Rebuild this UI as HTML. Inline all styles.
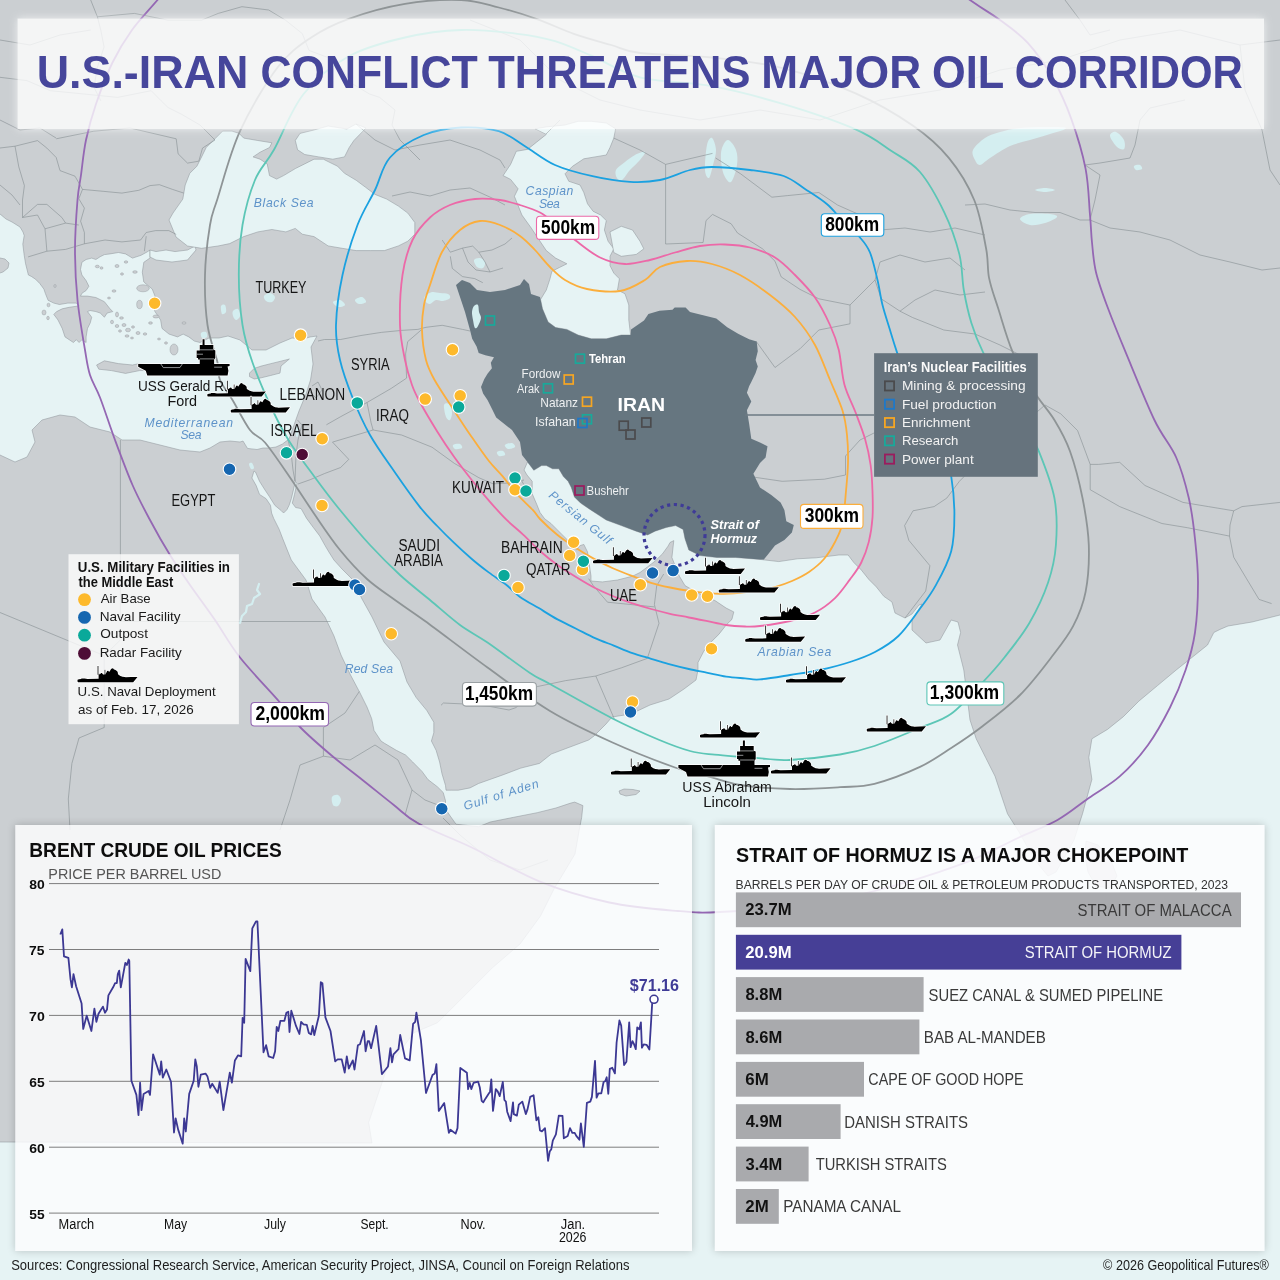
<!DOCTYPE html><html><head><meta charset="utf-8"><title>U.S.-Iran Conflict Threatens Major Oil Corridor</title>
<style>html,body{margin:0;padding:0;background:#cbcfd2;}svg{display:block;}text{font-family:'Liberation Sans', Arial, sans-serif;}</style></head><body>
<svg width="1280" height="1280" viewBox="0 0 1280 1280">
<defs><filter id="glow" x="-5%" y="-20%" width="110%" height="140%"><feGaussianBlur stdDeviation="3"/></filter><filter id="shadow" x="-5%" y="-5%" width="110%" height="110%"><feGaussianBlur stdDeviation="4"/></filter><filter id="glow2" x="-5%" y="-30%" width="110%" height="160%"><feGaussianBlur stdDeviation="4.5"/></filter><symbol id="ship" viewBox="0 0 60 16.2" overflow="visible"><path d="M0,13.8 L1.5,13.2 L3.5,13 L4,12.5 L6.5,12.5 L7.2,12.6 L9.9,13 L21.1,12.75 L21.1,8.5 L22,8.5 L22,7.7 L23.2,7.7 L23.6,6.9 L24.4,6.9 L24.8,7.6 L25.6,8.4 L28,8.4 L28.6,7 L29.1,6.2 L29.6,5.1 L30.7,4.8 L31.2,5.6 L31.9,5.8 L32.3,5.2 L33.1,3.7 L33.9,2.7 L35,2.3 L36,2.8 L36.5,3.6 L37.6,3.7 L38.7,4.5 L39.7,5.3 L40.3,6.4 L40.5,8.3 L41.8,9.2 L42.9,9.9 L45,10.8 L47.2,11.1 L48.3,11.3 L53.6,11.1 L60,10.9 L55.7,16.2 L0.5,16.2 L0,15.5 Z M20.1,0 L20.9,0 L20.9,8.8 L20.1,8.8 Z M27.1,3.7 L27.8,3.7 L27.8,8.5 L27.1,8.5 Z" fill="#000" stroke="#fff" stroke-width="1.5" stroke-linejoin="round" paint-order="stroke"/></symbol><symbol id="carrier" viewBox="0 0 91.6 36.2" overflow="visible"><path d="M0,24.7 L61.7,24.7 L61.7,20.3 L60,20.3 L60,18.7 L58.6,18.7 L58.6,11.1 L61.7,11.1 L61.7,5.6 L64.5,5.6 L64.5,0 L66.5,0 L66.5,5.6 L75.3,5.6 L75.3,10.3 L77.3,11.1 L77.3,18.7 L76.1,20.3 L76.1,24.7 L91.6,24.7 L91.6,26.7 L89.6,27.1 L90.4,31.5 L89.6,36.2 L9.1,36.2 L7.6,31.5 L0,27.5 Z" fill="#000" stroke="#fff" stroke-width="1.5" stroke-linejoin="round" paint-order="stroke"/><path d="M22.7,24.7 L25.1,28.3 L41.8,28.3 L44.2,24.7 M76.1,27.9 L84,27.9 M61.7,10.5 L75.3,10.5 M58.6,14.9 L64.9,14.9 M61.7,19.6 L76.1,19.6" fill="none" stroke="#c8cccf" stroke-width="0.7"/></symbol></defs>
<rect width="1280" height="1280" fill="#cbcfd2"/>
<path d="M-10.0,212.0 L0.0,214.0 L6.0,219.0 L12.0,222.0 L20.0,227.0 L23.0,232.0 L24.2,235.6 L22.8,244.1 L24.2,255.3 L25.6,263.8 L28.4,275.0 L31.3,276.4 L35.5,279.2 L39.7,283.4 L43.9,289.1 L45.3,293.3 L48.1,300.3 L53.8,303.1 L59.4,304.5 L67.8,303.1 L76.3,303.1 L79.1,305.9 L69.2,307.3 L62.2,308.8 L56.6,311.6 L53.8,314.4 L58.0,320.0 L62.2,328.4 L65.0,336.9 L69.2,339.7 L73.4,342.5 L76.3,339.7 L79.1,342.5 L81.9,339.7 L86.1,342.5 L86.1,336.9 L87.5,328.4 L90.3,322.8 L91.7,317.2 L87.5,311.6 L90.0,310.5 L95.9,311.6 L100.2,313.0 L104.4,317.2 L107.2,313.0 L112.8,311.6 L110.0,308.8 L104.4,301.7 L95.9,297.5 L87.5,296.1 L80.5,296.1 L81.9,293.3 L86.1,290.5 L88.9,286.3 L86.1,280.6 L81.9,275.0 L80.5,269.4 L81.9,262.3 L86.1,259.5 L91.7,258.1 L95.9,259.5 L100.2,256.7 L104.4,254.6 L110.0,253.9 L118.4,252.5 L125.5,253.9 L132.5,258.1 L141.0,255.3 L147.0,252.0 L150.0,250.0 L150.0,258.0 L143.8,262.3 L142.3,272.2 L143.8,282.0 L152.2,289.0 L155.0,296.1 L152.2,305.9 L155.0,311.6 L160.6,320.0 L162.0,328.4 L169.0,334.1 L177.5,336.9 L183.1,334.1 L188.8,336.9 L194.4,341.1 L200.0,342.5 L209.0,338.0 L219.0,338.0 L228.0,336.0 L240.0,340.0 L252.0,350.0 L266.0,350.0 L280.0,343.0 L292.0,338.0 L303.0,339.0 L310.0,337.0 L317.0,336.0 L311.0,347.0 L313.0,364.0 L310.5,380.0 L306.0,394.0 L299.0,411.0 L294.0,425.0 L289.0,439.0 L282.5,444.0 L276.0,447.0 L269.0,448.0 L263.0,448.0 L257.0,449.5 L247.5,448.4 L243.0,441.0 L240.0,442.0 L230.0,441.0 L220.0,442.0 L210.0,448.0 L200.0,452.0 L180.0,450.0 L160.0,445.0 L140.0,440.0 L122.0,440.0 L110.0,432.0 L90.0,427.0 L75.0,417.0 L60.0,415.0 L42.0,420.0 L32.0,430.0 L35.0,442.0 L27.0,457.0 L15.0,462.0 L0.0,455.0 L-10.0,455.0Z" fill="#e6f3f4" stroke="#8a9196" stroke-width="0.5"/>
<path d="M150.0,250.0 L156.0,251.6 L166.0,250.0 L175.0,251.6 L187.5,250.0 L195.0,246.0 L196.0,250.0 L187.5,260.0 L172.0,262.0 L156.0,260.0 L150.0,257.0Z" fill="#e6f3f4" stroke="#8a9196" stroke-width="0.5"/>
<path d="M173.0,213.0 L169.0,220.0 L176.0,237.0 L187.5,246.0 L201.6,248.3 L218.0,246.0 L229.7,243.6 L243.7,236.6 L257.8,231.9 L271.9,229.5 L285.9,231.9 L295.3,228.4 L302.3,234.2 L314.0,236.6 L328.1,245.9 L342.2,248.3 L356.2,250.6 L370.3,250.6 L384.4,250.6 L398.4,245.9 L407.8,241.2 L414.8,234.2 L414.8,222.5 L407.8,213.1 L398.4,206.1 L386.7,199.1 L375.0,194.4 L365.6,187.3 L356.2,180.3 L344.5,173.3 L337.5,166.2 L328.1,161.6 L323.4,159.2 L314.0,159.2 L304.7,163.9 L295.3,168.6 L283.6,175.6 L276.6,179.1 L269.5,175.6 L267.2,163.9 L260.1,159.2 L253.1,156.9 L260.1,152.2 L269.5,147.5 L271.9,142.8 L257.8,140.5 L243.7,138.1 L239.1,133.4 L232.0,131.1 L222.6,131.1 L215.6,138.1 L206.2,147.5 L201.6,156.9 L196.9,166.2 L189.8,173.3 L185.2,185.0 L182.8,199.1Z" fill="#e6f3f4" stroke="#8a9196" stroke-width="0.5"/>
<path d="M295.3,140.5 L300.0,133.4 L314.0,130.0 L328.1,126.0 L346.9,129.0 L356.0,124.0 L366.0,128.0 L353.9,140.5 L349.2,147.5 L344.5,156.9 L332.8,159.2 L318.7,156.9 L304.7,154.5 L297.6,149.8Z" fill="#e6f3f4" stroke="#8a9196" stroke-width="0.5"/>
<path d="M535.0,128.8 L546.3,134.4 L536.9,141.9 L527.5,149.4 L516.3,151.3 L510.6,164.4 L503.1,175.6 L510.6,179.4 L518.1,188.8 L514.4,196.3 L521.9,215.0 L531.3,228.1 L538.8,239.4 L546.3,250.6 L555.6,258.1 L566.9,263.8 L559.4,267.5 L551.9,271.3 L550.0,278.8 L546.3,290.0 L540.6,299.4 L542.5,308.8 L548.1,321.9 L555.6,327.5 L566.9,329.4 L578.1,335.0 L591.3,338.8 L606.3,338.8 L621.3,335.0 L630.6,335.0 L628.8,320.0 L628.8,305.0 L625.0,293.8 L617.5,290.0 L619.4,278.8 L613.8,273.1 L610.0,265.6 L610.0,256.3 L613.8,248.8 L608.1,241.3 L604.4,230.0 L606.3,220.6 L600.6,215.0 L593.1,211.3 L587.5,203.8 L583.8,192.5 L580.0,185.0 L568.8,181.3 L565.0,173.8 L572.5,166.3 L583.8,158.8 L595.0,156.9 L606.3,155.0 L610.0,147.5 L613.8,138.1 L615.6,128.8 L606.3,123.0 L591.3,121.3 L578.1,121.3 L565.0,125.0 L546.3,126.9Z" fill="#e6f3f4" stroke="#8a9196" stroke-width="0.5"/>
<path d="M610.0,231.9 L621.3,226.3 L632.5,230.0 L640.0,241.3 L643.8,248.8 L636.3,254.4 L621.3,256.3 L613.8,252.5Z" fill="#e6f3f4" stroke="#8a9196" stroke-width="0.5"/>
<path d="M254.0,471.0 L255.5,472.0 L259.5,481.3 L265.0,490.0 L269.4,496.6 L274.8,505.3 L281.4,510.8 L283.6,513.0 L286.9,509.7 L289.1,505.3 L291.3,498.7 L293.4,490.0 L295.3,481.3 L296.9,483.4 L294.5,494.4 L292.3,503.1 L295.6,507.5 L301.1,508.6 L306.6,518.4 L313.1,527.2 L319.7,535.9 L325.2,545.8 L328.4,551.2 L333.9,560.0 L342.0,569.0 L353.0,580.0 L362.0,599.0 L372.0,617.0 L384.0,642.0 L400.0,661.0 L407.0,682.0 L416.2,697.6 L426.8,710.5 L433.8,722.2 L433.8,732.8 L431.4,741.0 L436.1,750.3 L439.6,762.0 L442.0,773.8 L445.5,785.5 L446.0,790.2 L451.4,790.2 L458.4,790.2 L470.0,787.9 L478.6,783.5 L502.0,775.2 L520.8,768.1 L539.5,763.4 L551.2,754.1 L570.0,747.0 L588.7,740.0 L594.0,736.0 L606.0,724.0 L612.0,717.0 L631.0,714.0 L650.0,705.0 L669.0,699.0 L684.0,689.0 L696.0,680.0 L698.0,670.0 L698.0,662.5 L703.8,651.2 L711.2,641.9 L718.8,634.4 L726.2,625.0 L731.9,619.4 L733.8,611.9 L726.2,608.1 L715.0,600.6 L698.0,593.1 L685.0,585.6 L679.4,576.2 L675.6,566.9 L671.9,557.5 L673.8,540.6 L670.0,542.5 L668.0,546.2 L662.5,553.8 L655.0,561.2 L647.5,566.9 L640.0,572.5 L632.5,576.2 L617.5,580.0 L602.5,581.9 L591.0,581.0 L591.0,576.0 L589.4,565.0 L587.5,551.9 L583.8,544.4 L579.0,546.0 L577.0,550.0 L572.8,546.9 L568.1,540.6 L561.9,534.4 L557.2,529.7 L550.9,523.4 L544.7,518.8 L540.0,512.5 L536.9,504.7 L532.2,493.8 L532.2,481.3 L527.0,475.0 L524.0,470.0 L527.5,462.0 L533.8,470.3 L541.6,465.6 L546.3,465.6 L552.5,468.8 L558.8,468.8 L563.4,476.6 L568.1,481.3 L571.3,487.5 L574.4,496.9 L580.6,503.1 L590.0,509.4 L599.4,515.6 L606.2,520.0 L621.2,525.6 L636.2,531.2 L647.5,535.0 L655.0,531.2 L666.2,527.5 L675.6,525.6 L683.1,529.4 L685.0,538.8 L688.8,550.0 L700.0,555.6 L716.9,557.5 L735.6,557.5 L760.0,559.4 L778.8,561.6 L797.5,558.8 L816.3,557.8 L838.8,555.0 L848.1,555.0 L853.8,562.5 L861.3,570.0 L868.8,579.4 L876.3,586.9 L883.8,596.3 L892.0,602.0 L895.0,613.0 L905.0,618.0 L912.0,614.0 L919.0,605.0 L922.0,604.0 L912.0,620.0 L912.0,630.0 L926.0,643.0 L940.0,640.0 L951.2,620.0 L958.0,622.0 L960.6,632.5 L957.5,645.0 L963.8,670.0 L966.9,695.0 L970.0,720.0 L976.2,738.8 L985.6,757.5 L995.0,776.2 L1001.2,795.0 L1007.5,813.8 L1019.0,832.0 L1028.0,848.0 L1038.0,864.0 L1048.0,876.0 L1056.0,872.0 L1064.0,858.0 L1074.0,840.0 L1082.5,813.8 L1091.9,779.4 L1088.8,757.5 L1091.9,738.8 L1107.5,729.4 L1123.1,716.9 L1138.8,701.2 L1157.5,685.6 L1176.2,670.0 L1191.9,657.5 L1207.5,645.0 L1213.8,632.5 L1220.0,629.4 L1228.0,626.0 L1252.0,622.0 L1280.0,615.0 L1290.0,613.0 L1290.0,1290.0 L-10.0,1290.0 L-10.0,1142.0 L372.0,1143.0 L368.7,1122.4 L375.6,1101.8 L386.0,1071.0 L413.4,1033.0 L437.5,1022.7 L461.5,998.7 L492.4,967.8 L520.0,944.0 L540.5,916.0 L554.0,889.0 L575.0,854.0 L579.4,829.1 L581.7,817.3 L582.9,805.6 L574.7,802.1 L570.0,803.3 L555.9,808.0 L537.2,812.7 L513.7,817.3 L490.3,822.0 L478.6,826.7 L456.0,824.2 L450.2,816.0 L445.5,809.0 L445.5,800.7 L443.2,792.5 L437.3,786.7 L428.0,779.6 L422.0,771.4 L412.7,762.0 L405.6,755.0 L396.3,750.3 L384.5,743.3 L381.0,741.0 L374.0,730.4 L371.7,718.7 L367.0,707.0 L360.0,692.9 L350.0,674.0 L341.0,655.0 L334.0,636.0 L325.0,617.0 L312.0,599.0 L306.0,580.0 L291.3,560.0 L286.9,549.1 L282.5,538.1 L279.2,529.4 L273.7,518.4 L271.6,513.0 L270.5,505.3 L266.1,498.7 L259.5,494.4 L256.2,485.6 L251.9,478.0Z" fill="#e6f3f4" stroke="#8a9196" stroke-width="0.5"/>
<path d="M-10.0,258.0 L0.0,258.0 L5.0,259.0 L9.0,263.0 L8.0,268.0 L3.0,272.0 L0.0,273.0 L-10.0,273.0Z" fill="#cbcfd2" stroke="#8a9196" stroke-width="0.5"/>
<path d="M249.5,373.1 L254.2,368.4 L261.2,366.1 L270.6,363.7 L280.0,361.4 L289.4,359.0 L281.0,366.0 L280.0,373.1 L270.6,375.5 L261.2,377.8 L254.2,379.0 L249.5,376.6Z" fill="#cbcfd2" stroke="#8a9196" stroke-width="0.5"/>
<path d="M96.6,365.0 L104.4,360.8 L118.4,363.6 L132.5,365.0 L139.5,363.6 L150.0,365.5 L162.0,366.5 L172.0,366.5 L178.0,368.5 L172.0,370.5 L150.0,370.5 L139.5,370.6 L125.5,373.4 L111.4,370.6 L98.8,369.2Z" fill="#cbcfd2" stroke="#8a9196" stroke-width="0.5"/>
<path d="M619.0,791.0 L624.0,789.0 L633.0,789.5 L640.0,791.0 L636.0,794.5 L626.0,796.0 L620.0,794.0Z" fill="#cbcfd2" stroke="#8a9196" stroke-width="0.5"/>
<path d="M1086.0,841.0 L1098.0,845.0 L1110.0,858.0 L1117.0,876.0 L1110.0,888.0 L1096.0,886.0 L1088.0,872.0 L1085.0,855.0Z" fill="#cbcfd2" stroke="#8a9196" stroke-width="0.5"/>
<ellipse cx="143" cy="288.3" rx="6.3" ry="3.5" fill="#cbcfd2" stroke="#8a9196" stroke-width="0.4"/>
<ellipse cx="139.5" cy="304.5" rx="2.8" ry="4.2" fill="#cbcfd2" stroke="#8a9196" stroke-width="0.4"/>
<ellipse cx="156" cy="316.5" rx="3" ry="1.5" fill="#cbcfd2" stroke="#8a9196" stroke-width="0.4"/>
<ellipse cx="150.5" cy="323" rx="2" ry="1.2" fill="#cbcfd2" stroke="#8a9196" stroke-width="0.4"/>
<ellipse cx="174" cy="349.5" rx="4" ry="5.5" fill="#cbcfd2" stroke="#8a9196" stroke-width="0.4"/>
<ellipse cx="117" cy="314.5" rx="1.5" ry="2.5" fill="#cbcfd2" stroke="#8a9196" stroke-width="0.4"/>
<ellipse cx="121.5" cy="318" rx="2" ry="1.2" fill="#cbcfd2" stroke="#8a9196" stroke-width="0.4"/>
<ellipse cx="124" cy="325" rx="2" ry="1.5" fill="#cbcfd2" stroke="#8a9196" stroke-width="0.4"/>
<ellipse cx="128" cy="330" rx="2.5" ry="1.8" fill="#cbcfd2" stroke="#8a9196" stroke-width="0.4"/>
<ellipse cx="117" cy="326" rx="1.8" ry="1.5" fill="#cbcfd2" stroke="#8a9196" stroke-width="0.4"/>
<ellipse cx="133" cy="327" rx="1.5" ry="1.2" fill="#cbcfd2" stroke="#8a9196" stroke-width="0.4"/>
<ellipse cx="138" cy="333" rx="2" ry="1.5" fill="#cbcfd2" stroke="#8a9196" stroke-width="0.4"/>
<ellipse cx="127" cy="336" rx="2" ry="1.2" fill="#cbcfd2" stroke="#8a9196" stroke-width="0.4"/>
<ellipse cx="145" cy="334" rx="1.8" ry="1.2" fill="#cbcfd2" stroke="#8a9196" stroke-width="0.4"/>
<ellipse cx="112" cy="322" rx="1.5" ry="1.8" fill="#cbcfd2" stroke="#8a9196" stroke-width="0.4"/>
<ellipse cx="120" cy="331" rx="1.5" ry="1.2" fill="#cbcfd2" stroke="#8a9196" stroke-width="0.4"/>
<ellipse cx="132" cy="338" rx="1.5" ry="1" fill="#cbcfd2" stroke="#8a9196" stroke-width="0.4"/>
<ellipse cx="109" cy="298" rx="1.5" ry="1" fill="#cbcfd2" stroke="#8a9196" stroke-width="0.4"/>
<ellipse cx="114" cy="291" rx="2" ry="1.2" fill="#cbcfd2" stroke="#8a9196" stroke-width="0.4"/>
<ellipse cx="122" cy="274" rx="1.5" ry="1.2" fill="#cbcfd2" stroke="#8a9196" stroke-width="0.4"/>
<ellipse cx="135" cy="272" rx="2.3" ry="1.3" fill="#cbcfd2" stroke="#8a9196" stroke-width="0.4"/>
<ellipse cx="117" cy="266" rx="2" ry="1.5" fill="#cbcfd2" stroke="#8a9196" stroke-width="0.4"/>
<ellipse cx="126" cy="262" rx="1.8" ry="1.2" fill="#cbcfd2" stroke="#8a9196" stroke-width="0.4"/>
<ellipse cx="97.3" cy="266.5" rx="2" ry="1.3" fill="#cbcfd2" stroke="#8a9196" stroke-width="0.4"/>
<ellipse cx="101.5" cy="268" rx="1.5" ry="1.2" fill="#cbcfd2" stroke="#8a9196" stroke-width="0.4"/>
<ellipse cx="55" cy="286" rx="1.2" ry="1.5" fill="#cbcfd2" stroke="#8a9196" stroke-width="0.4"/>
<ellipse cx="48.5" cy="305" rx="1.5" ry="1.8" fill="#cbcfd2" stroke="#8a9196" stroke-width="0.4"/>
<ellipse cx="44" cy="312.5" rx="2" ry="2.5" fill="#cbcfd2" stroke="#8a9196" stroke-width="0.4"/>
<ellipse cx="48" cy="318" rx="1.3" ry="1.8" fill="#cbcfd2" stroke="#8a9196" stroke-width="0.4"/>
<ellipse cx="184" cy="323" rx="2" ry="1.2" fill="#cbcfd2" stroke="#8a9196" stroke-width="0.4"/>
<ellipse cx="159" cy="339" rx="1.5" ry="1" fill="#cbcfd2" stroke="#8a9196" stroke-width="0.4"/>
<ellipse cx="166" cy="343" rx="1.5" ry="1.2" fill="#cbcfd2" stroke="#8a9196" stroke-width="0.4"/>
<path d="M474.0,306.0 C475.0,304.8 477.2,304.0 478.0,305.0 C478.8,306.0 478.5,309.8 479.0,312.0 C479.5,314.2 481.2,315.7 481.0,318.0 C480.8,320.3 479.0,324.3 478.0,326.0 C477.0,327.7 475.8,329.0 475.0,328.0 C474.2,327.0 473.5,322.7 473.0,320.0 C472.5,317.3 471.8,314.3 472.0,312.0 C472.2,309.7 473.0,307.2 474.0,306.0Z" fill="#d4eef0"/>
<path d="M425.0,296.0 C426.2,294.5 429.5,292.5 432.0,292.0 C434.5,291.5 437.3,292.7 440.0,293.0 C442.7,293.3 446.3,293.2 448.0,294.0 C449.7,294.8 450.8,296.8 450.0,298.0 C449.2,299.2 445.3,300.7 443.0,301.0 C440.7,301.3 438.2,299.5 436.0,300.0 C433.8,300.5 431.8,303.8 430.0,304.0 C428.2,304.2 425.8,302.3 425.0,301.0 C424.2,299.7 423.8,297.5 425.0,296.0Z" fill="#d4eef0"/>
<path d="M474.0,260.0 C474.5,258.5 478.2,257.7 480.0,258.0 C481.8,258.3 484.5,260.3 485.0,262.0 C485.5,263.7 484.3,267.2 483.0,268.0 C481.7,268.8 478.5,268.3 477.0,267.0 C475.5,265.7 473.5,261.5 474.0,260.0Z" fill="#d4eef0"/>
<path d="M264.0,296.0 C264.7,294.7 268.2,292.8 270.0,293.0 C271.8,293.2 274.7,295.5 275.0,297.0 C275.3,298.5 273.5,301.3 272.0,302.0 C270.5,302.7 267.3,302.0 266.0,301.0 C264.7,300.0 263.3,297.3 264.0,296.0Z" fill="#d4eef0"/>
<path d="M707.0,145.0 C708.2,139.7 710.5,137.2 712.0,138.0 C713.5,138.8 715.8,145.5 716.0,150.0 C716.2,154.5 714.2,160.3 713.0,165.0 C711.8,169.7 710.3,177.2 709.0,178.0 C707.7,178.8 705.3,175.5 705.0,170.0 C704.7,164.5 705.8,150.3 707.0,145.0Z" fill="#d4eef0"/>
<path d="M722.0,148.0 C723.2,144.7 725.7,139.7 728.0,140.0 C730.3,140.3 734.5,145.8 736.0,150.0 C737.5,154.2 737.8,159.7 737.0,165.0 C736.2,170.3 733.2,180.3 731.0,182.0 C728.8,183.7 725.7,178.7 724.0,175.0 C722.3,171.3 721.3,164.5 721.0,160.0 C720.7,155.5 720.8,151.3 722.0,148.0Z" fill="#d4eef0"/>
<path d="M616.0,170.0 C617.3,167.3 621.8,164.5 625.0,162.0 C628.2,159.5 631.7,156.7 635.0,155.0 C638.3,153.3 644.2,151.2 645.0,152.0 C645.8,152.8 642.5,157.0 640.0,160.0 C637.5,163.0 633.0,166.7 630.0,170.0 C627.0,173.3 624.2,178.7 622.0,180.0 C619.8,181.3 618.0,179.7 617.0,178.0 C616.0,176.3 614.7,172.7 616.0,170.0Z" fill="#d4eef0"/>
<path d="M973.0,150.0 C974.7,146.3 980.5,141.0 985.0,138.0 C989.5,135.0 994.2,133.7 1000.0,132.0 C1005.8,130.3 1012.5,128.8 1020.0,128.0 C1027.5,127.2 1037.3,127.0 1045.0,127.0 C1052.7,127.0 1065.2,126.8 1066.0,128.0 C1066.8,129.2 1056.0,132.0 1050.0,134.0 C1044.0,136.0 1036.7,138.0 1030.0,140.0 C1023.3,142.0 1016.7,143.0 1010.0,146.0 C1003.3,149.0 995.0,154.8 990.0,158.0 C985.0,161.2 982.5,164.7 980.0,165.0 C977.5,165.3 976.2,162.5 975.0,160.0 C973.8,157.5 971.3,153.7 973.0,150.0Z" fill="#d4eef0"/>
<path d="M1110.0,136.0 C1109.8,133.5 1113.7,131.3 1116.0,132.0 C1118.3,132.7 1122.7,137.2 1124.0,140.0 C1125.3,142.8 1125.2,147.8 1124.0,149.0 C1122.8,150.2 1119.3,149.2 1117.0,147.0 C1114.7,144.8 1110.2,138.5 1110.0,136.0Z" fill="#d4eef0"/>
<path d="M1035.0,190.0 C1035.0,189.3 1041.7,188.0 1045.0,188.0 C1048.3,188.0 1055.0,189.3 1055.0,190.0 C1055.0,190.7 1048.3,192.0 1045.0,192.0 C1041.7,192.0 1035.0,190.7 1035.0,190.0Z" fill="#d4eef0"/>
<path d="M1134.0,166.0 C1134.7,165.2 1138.7,164.5 1140.0,165.0 C1141.3,165.5 1142.7,168.2 1142.0,169.0 C1141.3,169.8 1137.3,170.5 1136.0,170.0 C1134.7,169.5 1133.3,166.8 1134.0,166.0Z" fill="#d4eef0"/>
<path d="M1020.0,219.0 C1020.0,217.2 1025.0,214.8 1030.0,214.0 C1035.0,213.2 1045.5,213.5 1050.0,214.0 C1054.5,214.5 1057.8,215.5 1057.0,217.0 C1056.2,218.5 1049.5,221.7 1045.0,223.0 C1040.5,224.3 1034.2,225.7 1030.0,225.0 C1025.8,224.3 1020.0,220.8 1020.0,219.0Z" fill="#d4eef0"/>
<path d="M444.0,405.0 C444.5,402.8 447.7,402.8 449.0,404.0 C450.3,405.2 451.8,409.3 452.0,412.0 C452.2,414.7 451.0,419.2 450.0,420.0 C449.0,420.8 447.0,419.5 446.0,417.0 C445.0,414.5 443.5,407.2 444.0,405.0Z" fill="#d4eef0"/>
<path d="M453.0,445.0 C453.8,444.2 458.5,443.5 460.0,444.0 C461.5,444.5 462.8,447.2 462.0,448.0 C461.2,448.8 456.5,449.5 455.0,449.0 C453.5,448.5 452.2,445.8 453.0,445.0Z" fill="#d4eef0"/>
<path d="M249.0,464.0 C249.2,463.0 251.2,462.3 252.0,463.0 C252.8,463.7 254.2,467.0 254.0,468.0 C253.8,469.0 251.8,469.7 251.0,469.0 C250.2,468.3 248.8,465.0 249.0,464.0Z" fill="#d4eef0"/>
<path d="M332.0,797.0 C332.8,795.3 336.5,794.5 338.0,795.0 C339.5,795.5 341.0,798.2 341.0,800.0 C341.0,801.8 339.3,805.2 338.0,806.0 C336.7,806.8 334.0,806.5 333.0,805.0 C332.0,803.5 331.2,798.7 332.0,797.0Z" fill="#d4eef0"/>
<path d="M233.0,311.0 C233.8,309.8 236.8,308.2 238.0,309.0 C239.2,309.8 240.3,314.2 240.0,316.0 C239.7,317.8 237.2,320.0 236.0,320.0 C234.8,320.0 233.5,317.5 233.0,316.0 C232.5,314.5 232.2,312.2 233.0,311.0Z" fill="#d4eef0"/>
<path d="M221.0,306.0 C221.5,304.5 224.2,304.0 225.0,305.0 C225.8,306.0 226.5,310.5 226.0,312.0 C225.5,313.5 222.8,315.0 222.0,314.0 C221.2,313.0 220.5,307.5 221.0,306.0Z" fill="#d4eef0"/>
<path d="M201.0,333.0 C201.7,332.0 205.0,331.3 206.0,332.0 C207.0,332.7 207.7,336.0 207.0,337.0 C206.3,338.0 203.0,338.7 202.0,338.0 C201.0,337.3 200.3,334.0 201.0,333.0Z" fill="#d4eef0"/>
<path d="M333.0,302.0 C333.3,300.8 338.0,299.5 340.0,300.0 C342.0,300.5 345.3,303.8 345.0,305.0 C344.7,306.2 340.0,307.5 338.0,307.0 C336.0,306.5 332.7,303.2 333.0,302.0Z" fill="#d4eef0"/>
<path d="M355.0,300.0 C355.5,298.8 360.2,296.7 362.0,297.0 C363.8,297.3 366.5,300.8 366.0,302.0 C365.5,303.2 360.8,304.3 359.0,304.0 C357.2,303.7 354.5,301.2 355.0,300.0Z" fill="#d4eef0"/>
<path d="M505.0,445.0 C505.7,444.0 510.3,442.7 512.0,443.0 C513.7,443.3 515.7,446.0 515.0,447.0 C514.3,448.0 509.7,449.3 508.0,449.0 C506.3,448.7 504.3,446.0 505.0,445.0Z" fill="#d4eef0"/>
<path d="M497.0,452.0 C497.7,451.2 501.7,450.5 503.0,451.0 C504.3,451.5 505.7,454.2 505.0,455.0 C504.3,455.8 500.3,456.5 499.0,456.0 C497.7,455.5 496.3,452.8 497.0,452.0Z" fill="#d4eef0"/>
<path d="M296.0,427.0 C296.3,425.5 297.7,425.5 298.0,427.0 C298.3,428.5 298.3,434.5 298.0,436.0 C297.7,437.5 296.3,437.5 296.0,436.0 C295.7,434.5 295.7,428.5 296.0,427.0Z" fill="#d4eef0"/>
<path d="M318.0,341.0 L324.4,339.5 L340.6,339.5 L361.0,335.5 L381.3,332.4 L401.6,330.4 L417.8,329.4 L426.0,327.3 L442.2,325.3 L462.5,329.4 L470.0,331.0" fill="none" stroke="#7f878c" stroke-width="0.55" stroke-linejoin="round"/>
<path d="M421.9,329.4 L407.7,341.6 L405.6,353.8 L406.6,378.1 L391.4,388.3 L367.0,402.5 L340.6,416.7 L326.4,424.8" fill="none" stroke="#7f878c" stroke-width="0.55" stroke-linejoin="round"/>
<path d="M367.0,402.5 L371.1,422.8 L373.1,430.0" fill="none" stroke="#7f878c" stroke-width="0.55" stroke-linejoin="round"/>
<path d="M373.1,430.0 L401.6,435.0 L432.0,447.2 L454.4,463.4 L478.8,477.7 L493.0,483.8 L510.0,483.0 L524.0,480.0" fill="none" stroke="#7f878c" stroke-width="0.55" stroke-linejoin="round"/>
<path d="M373.1,430.0 L332.5,442.1 L348.8,459.4 L340.6,467.5 L324.4,473.6 L310.2,479.7 L298.0,484.0" fill="none" stroke="#7f878c" stroke-width="0.55" stroke-linejoin="round"/>
<path d="M312.0,386.0 L318.0,382.0 L322.0,390.0 L316.0,398.0 L310.0,392.0" fill="none" stroke="#7f878c" stroke-width="0.55" stroke-linejoin="round"/>
<path d="M297.5,420.0 L302.0,425.0 L298.0,440.0 L296.0,455.0 L295.0,481.0" fill="none" stroke="#7f878c" stroke-width="0.55" stroke-linejoin="round"/>
<path d="M288.0,440.0 L291.0,452.0 L293.0,470.0 L295.0,481.0" fill="none" stroke="#7f878c" stroke-width="0.55" stroke-linejoin="round"/>
<path d="M441.0,705.3 L443.4,703.0 L466.9,704.1 L490.3,706.5 L509.0,710.0 L516.0,707.6 L537.2,686.6 L565.3,680.7 L595.8,676.0 L621.5,667.8 L647.3,658.4 L659.0,623.3 L654.4,604.5" fill="none" stroke="#7f878c" stroke-width="0.55" stroke-linejoin="round"/>
<path d="M595.8,676.0 L614.5,719.4" fill="none" stroke="#7f878c" stroke-width="0.55" stroke-linejoin="round"/>
<path d="M654.4,606.9 L607.5,602.2 L593.4,585.8 L588.7,578.7" fill="none" stroke="#7f878c" stroke-width="0.55" stroke-linejoin="round"/>
<path d="M654.4,604.5 L656.7,585.8 L663.7,574.0" fill="none" stroke="#7f878c" stroke-width="0.55" stroke-linejoin="round"/>
<path d="M520.0,478.0 L527.0,490.0 L532.0,495.0" fill="none" stroke="#7f878c" stroke-width="0.55" stroke-linejoin="round"/>
<path d="M120.4,440.0 L120.4,621.5 L330.6,621.5" fill="none" stroke="#7f878c" stroke-width="0.55" stroke-linejoin="round"/>
<path d="M0.0,612.5 L104.2,655.6 L104.2,727.5 L79.0,738.0 L71.9,763.4 L68.3,799.0 L70.0,830.0" fill="none" stroke="#7f878c" stroke-width="0.55" stroke-linejoin="round"/>
<path d="M104.2,655.6 L120.4,640.0" fill="none" stroke="#7f878c" stroke-width="0.55" stroke-linejoin="round"/>
<path d="M359.3,691.5 L345.0,713.0 L323.4,727.5 L323.4,756.2 L350.0,760.0 L375.0,745.0 L398.0,760.0 L412.0,790.0 L425.0,800.0 L438.0,805.0" fill="none" stroke="#7f878c" stroke-width="0.55" stroke-linejoin="round"/>
<path d="M323.4,756.2 L300.0,765.0 L290.0,800.0 L280.0,830.0" fill="none" stroke="#7f878c" stroke-width="0.55" stroke-linejoin="round"/>
<path d="M412.0,790.0 L405.0,815.0 L430.0,830.0" fill="none" stroke="#7f878c" stroke-width="0.55" stroke-linejoin="round"/>
<path d="M443.0,818.0 L460.0,835.0 L490.0,860.0 L520.0,870.0 L548.0,860.0" fill="none" stroke="#7f878c" stroke-width="0.55" stroke-linejoin="round"/>
<path d="M442.2,240.0 L450.3,252.2 L462.5,248.1 L472.7,246.1 L478.8,252.2 L492.0,250.0 L505.0,244.0 L512.0,238.0" fill="none" stroke="#7f878c" stroke-width="0.55" stroke-linejoin="round"/>
<path d="M450.3,256.3 L452.3,268.4 L462.5,276.6 L474.7,278.6 L482.8,282.7" fill="none" stroke="#7f878c" stroke-width="0.55" stroke-linejoin="round"/>
<path d="M462.5,248.1 L468.0,262.0 L476.0,270.0 L490.0,272.0 L503.0,268.0" fill="none" stroke="#7f878c" stroke-width="0.55" stroke-linejoin="round"/>
<path d="M478.8,252.2 L485.0,262.0 L490.0,272.0" fill="none" stroke="#7f878c" stroke-width="0.55" stroke-linejoin="round"/>
<path d="M392.0,196.0 L410.0,192.0 L430.0,196.0 L450.0,190.0 L470.0,188.0 L492.0,198.0 L505.0,205.0" fill="none" stroke="#7f878c" stroke-width="0.55" stroke-linejoin="round"/>
<path d="M356.0,124.0 L375.0,140.0 L395.0,150.0 L420.0,145.0 L450.0,140.0 L480.0,150.0 L500.0,160.0 L505.0,168.0" fill="none" stroke="#7f878c" stroke-width="0.55" stroke-linejoin="round"/>
<path d="M546.0,134.0 L560.0,120.0" fill="none" stroke="#7f878c" stroke-width="0.55" stroke-linejoin="round"/>
<path d="M613.8,138.1 L640.0,150.0 L665.6,164.4 L712.5,153.4" fill="none" stroke="#7f878c" stroke-width="0.55" stroke-linejoin="round"/>
<path d="M665.6,164.4 L665.6,244.0 L703.1,242.5 L706.0,220.6 L712.5,214.4 L731.2,223.8 L737.5,233.0 L762.5,248.8 L775.0,261.2 L781.2,276.9 L800.0,289.4 L818.8,298.8 L850.0,305.0 L850.0,323.8 L818.8,330.0 L800.0,348.8 L775.0,367.5 L756.2,341.4" fill="none" stroke="#7f878c" stroke-width="0.55" stroke-linejoin="round"/>
<path d="M715.6,158.0 L740.6,173.8 L771.9,197.2 L787.5,195.6 L818.8,192.5 L837.5,205.0 L860.0,215.0 L880.0,230.0 L905.0,228.0 L930.0,232.0 L955.0,228.0 L985.0,235.0" fill="none" stroke="#7f878c" stroke-width="0.55" stroke-linejoin="round"/>
<path d="M850.0,305.0 L875.0,280.0 L881.2,298.8 L900.0,311.2 L912.5,317.5 L943.8,330.0 L975.0,334.0 L1000.0,345.0 L1020.0,355.0" fill="none" stroke="#7f878c" stroke-width="0.55" stroke-linejoin="round"/>
<path d="M875.0,280.0 L880.0,262.0 L900.0,255.0 L925.0,262.0 L950.0,258.0 L965.0,270.0" fill="none" stroke="#7f878c" stroke-width="0.55" stroke-linejoin="round"/>
<path d="M900.0,311.2 L915.0,300.0 L935.0,290.0 L960.0,295.0 L985.0,292.0" fill="none" stroke="#7f878c" stroke-width="0.55" stroke-linejoin="round"/>
<path d="M753.0,477.0 L782.2,481.3 L824.4,479.2 L845.5,475.0 L845.5,456.0 L860.0,440.0 L880.0,430.0 L905.0,425.0 L930.0,420.0 L950.0,415.0 L960.0,400.0 L975.0,390.0" fill="none" stroke="#7f878c" stroke-width="0.55" stroke-linejoin="round"/>
<path d="M905.0,618.0 L925.7,591.0 L929.9,565.7 L908.8,540.3 L904.6,525.6 L913.0,510.8 L934.1,506.6 L946.8,498.1 L959.4,481.3 L967.8,472.8 L976.3,464.4 L993.2,443.3 L1010.0,430.6 L1025.0,420.0" fill="none" stroke="#7f878c" stroke-width="0.55" stroke-linejoin="round"/>
<path d="M1060.7,413.8 L1077.6,430.6 L1090.2,464.4 L1090.2,489.7 L1119.7,506.6 L1161.9,523.5 L1187.3,527.7 L1229.5,536.1 L1233.7,557.2 L1246.3,578.3 L1259.0,599.4 L1271.6,603.6" fill="none" stroke="#7f878c" stroke-width="0.55" stroke-linejoin="round"/>
<path d="M1090.2,464.4 L1098.6,464.4 L1119.7,462.3 L1145.0,485.5 L1183.0,502.4 L1208.4,506.6 L1233.7,510.8 L1242.0,506.6 L1280.0,502.4" fill="none" stroke="#7f878c" stroke-width="0.55" stroke-linejoin="round"/>
<path d="M1233.7,510.8 L1230.0,525.0 L1229.5,536.1" fill="none" stroke="#7f878c" stroke-width="0.55" stroke-linejoin="round"/>
<path d="M1010.0,430.6 L1030.0,418.0 L1045.0,405.0 L1060.7,413.8" fill="none" stroke="#7f878c" stroke-width="0.55" stroke-linejoin="round"/>
<path d="M82.5,189.4 L103.1,191.3 L121.9,193.1 L138.8,190.3 L150.0,185.6 L159.4,184.7 L172.5,189.4 L183.8,193.1" fill="none" stroke="#7f878c" stroke-width="0.55" stroke-linejoin="round"/>
<path d="M84.4,243.8 L105.0,240.0 L121.9,241.9 L140.6,240.0 L146.2,232.5 L155.6,230.6 L168.8,230.6 L176.2,234.4" fill="none" stroke="#7f878c" stroke-width="0.55" stroke-linejoin="round"/>
<path d="M146.2,236.2 L144.4,251.2" fill="none" stroke="#7f878c" stroke-width="0.55" stroke-linejoin="round"/>
<path d="M56.2,157.5 L60.0,170.6 L75.0,176.2 L82.5,189.4 L78.8,198.8 L84.4,208.1 L80.6,221.2 L84.4,232.5 L84.4,243.8" fill="none" stroke="#7f878c" stroke-width="0.55" stroke-linejoin="round"/>
<path d="M46.9,251.2 L65.6,249.4 L84.4,243.8" fill="none" stroke="#7f878c" stroke-width="0.55" stroke-linejoin="round"/>
<path d="M45.0,228.8 L65.6,223.1 L78.8,225.0" fill="none" stroke="#7f878c" stroke-width="0.55" stroke-linejoin="round"/>
<path d="M28.1,256.9 L46.9,251.2 L45.0,228.8 L37.5,215.0 L22.5,217.5" fill="none" stroke="#7f878c" stroke-width="0.55" stroke-linejoin="round"/>
<path d="M22.5,217.5 L37.5,204.4 L46.9,204.4 L61.9,217.5 L65.6,223.1" fill="none" stroke="#7f878c" stroke-width="0.55" stroke-linejoin="round"/>
<path d="M0.0,148.0 L15.0,146.2 L37.5,140.6 L46.9,148.1 L56.2,157.5" fill="none" stroke="#7f878c" stroke-width="0.55" stroke-linejoin="round"/>
<path d="M15.0,146.2 L18.8,166.9 L24.4,185.6 L22.5,200.0 L22.5,217.5" fill="none" stroke="#7f878c" stroke-width="0.55" stroke-linejoin="round"/>
<path d="M56.2,138.8 L93.8,131.2 L130.0,128.0 L176.2,138.8 L178.1,153.8 L187.5,163.1 L198.8,161.2 L202.5,148.1 L215.0,140.0" fill="none" stroke="#7f878c" stroke-width="0.55" stroke-linejoin="round"/>
<path d="M0.0,185.0 L12.0,195.0 L20.0,205.0" fill="none" stroke="#7f878c" stroke-width="0.55" stroke-linejoin="round"/>
<path d="M0.0,77.3 L26.9,80.6 L50.4,90.7 L84.0,94.0 L117.6,97.4 L151.2,90.7 L161.2,100.8 L168.0,107.5 L181.4,114.2 L200.0,125.0 L215.0,140.0" fill="none" stroke="#7f878c" stroke-width="0.55" stroke-linejoin="round"/>
<path d="M90.7,0.0 L97.4,16.8 L100.8,30.2 L104.1,47.0 L97.4,67.2 L94.0,87.3 L100.8,100.8" fill="none" stroke="#7f878c" stroke-width="0.55" stroke-linejoin="round"/>
<path d="M97.4,16.8 L134.4,13.4 L168.0,20.2 L201.5,20.2 L218.3,13.4 L241.9,6.7 L268.7,10.0 L285.5,20.2 L302.3,33.6 L309.0,50.4 L335.9,60.5 L352.7,84.0 L369.5,94.0 L379.6,97.4 L395.0,110.0 L392.0,125.0 L400.0,140.0 L420.0,160.0" fill="none" stroke="#7f878c" stroke-width="0.55" stroke-linejoin="round"/>
<path d="M0.0,40.0 L30.0,45.0 L60.0,35.0 L90.7,30.0" fill="none" stroke="#7f878c" stroke-width="0.55" stroke-linejoin="round"/>
<path d="M0.0,120.0 L20.0,130.0 L40.0,128.0 L56.0,138.0" fill="none" stroke="#7f878c" stroke-width="0.55" stroke-linejoin="round"/>
<path d="M470.0,20.0 L520.0,40.0 L560.0,80.0 L600.0,100.0 L640.0,110.0 L700.0,120.0 L760.0,110.0 L820.0,120.0 L880.0,100.0 L940.0,90.0 L1000.0,70.0 L1060.0,60.0 L1120.0,40.0 L1180.0,30.0 L1240.0,45.0 L1280.0,40.0" fill="none" stroke="#7f878c" stroke-width="0.55" stroke-linejoin="round"/>
<path d="M1240.0,45.0 L1245.0,90.0 L1262.0,130.0 L1270.0,170.0 L1280.0,185.0" fill="none" stroke="#7f878c" stroke-width="0.55" stroke-linejoin="round"/>
<path d="M965.0,205.0 L985.0,204.0 L1010.0,210.0 L1035.0,212.5 L1060.0,212.5 L1080.0,220.0 L1090.0,220.0 L1095.0,200.0 L1100.0,175.0 L1085.0,165.0 L1100.0,163.0 L1130.0,158.0 L1135.0,145.0 L1140.0,120.0 L1150.0,108.0 L1185.0,100.0" fill="none" stroke="#7f878c" stroke-width="0.55" stroke-linejoin="round"/>
<path d="M1065.0,0.0 L1080.0,20.0 L1090.0,35.0 L1110.0,30.0" fill="none" stroke="#7f878c" stroke-width="0.55" stroke-linejoin="round"/>
<path d="M1090.0,220.0 L1110.0,228.0 L1140.0,232.0 L1170.0,240.0 L1200.0,255.0 L1230.0,262.0 L1262.0,270.0 L1280.0,268.0" fill="none" stroke="#7f878c" stroke-width="0.55" stroke-linejoin="round"/>
<path d="M259,584 L257,590 L260,594 L254,598 L252,604 L247,606 L246,612 L242,616 L240,623" fill="none" stroke="#d4eef0" stroke-width="2.2" stroke-linecap="round" stroke-linejoin="round"/>
<path d="M456.0,285.0 L462.0,280.0 L470.0,283.0 L477.0,290.0 L490.0,292.0 L505.0,290.0 L520.0,285.0 L524.0,279.0 L529.0,284.0 L531.0,294.0 L540.0,297.0 L542.5,308.8 L548.1,321.9 L555.6,327.5 L566.9,329.4 L578.1,335.0 L591.3,338.8 L606.3,338.8 L621.3,335.0 L630.6,335.0 L631.0,329.4 L644.0,320.6 L648.4,314.0 L659.4,310.8 L672.5,309.7 L674.7,307.5 L685.6,307.5 L690.0,311.9 L703.1,315.2 L716.3,318.4 L727.2,327.2 L738.1,333.8 L749.1,339.2 L756.7,341.4 L757.8,351.3 L755.6,360.0 L757.8,366.6 L755.6,373.1 L751.3,381.9 L749.1,386.3 L746.9,392.8 L751.3,401.6 L746.9,410.3 L749.1,423.4 L751.3,438.8 L760.0,442.5 L767.5,446.3 L765.6,457.5 L760.0,463.1 L753.4,473.8 L760.0,487.5 L771.3,495.0 L780.6,502.5 L784.4,510.0 L786.3,521.3 L793.8,525.0 L791.9,532.5 L784.4,540.0 L775.0,545.6 L767.5,555.0 L763.8,559.4 L760.0,559.4 L735.6,557.5 L716.9,557.5 L700.0,555.6 L688.8,550.0 L685.0,538.8 L683.1,529.4 L675.6,525.6 L666.2,527.5 L655.0,531.2 L647.5,535.0 L636.2,531.2 L621.2,525.6 L606.2,520.0 L599.4,515.6 L590.0,509.4 L580.6,503.1 L574.4,496.9 L571.3,487.5 L568.1,481.3 L563.4,476.6 L558.8,468.8 L552.5,468.8 L546.3,465.6 L541.6,465.6 L533.8,470.3 L527.5,462.0 L522.0,455.0 L520.0,442.0 L512.0,430.0 L496.2,417.5 L491.9,408.7 L487.5,400.0 L483.1,393.4 L481.0,386.9 L484.2,379.2 L487.5,373.7 L491.9,368.3 L490.8,362.8 L494.0,357.3 L485.3,355.2 L478.7,353.0 L476.6,346.4 L472.2,338.8 L470.0,330.0 L465.0,312.0Z" fill="#667680"/>
<path d="M474.0,306.0 C475.0,304.8 477.2,304.0 478.0,305.0 C478.8,306.0 478.5,309.8 479.0,312.0 C479.5,314.2 481.2,315.7 481.0,318.0 C480.8,320.3 479.0,324.3 478.0,326.0 C477.0,327.7 475.8,329.0 475.0,328.0 C474.2,327.0 473.5,322.7 473.0,320.0 C472.5,317.3 471.8,314.3 472.0,312.0 C472.2,309.7 473.0,307.2 474.0,306.0Z" fill="#d4eef0"/>
<path d="M90.0,375.0 C87.5,367.1 87.1,362.5 85.0,350.0 C82.9,337.5 79.2,316.7 77.5,300.0 C75.8,283.3 75.0,266.7 75.0,250.0 C75.0,233.3 76.5,212.5 77.5,200.0 C78.5,187.5 79.6,185.0 81.0,175.0 C82.4,165.0 83.5,151.8 86.0,140.0 C88.5,128.2 91.6,116.9 96.0,104.0 C100.4,91.1 106.5,74.8 112.5,62.5 C118.5,50.2 124.5,40.4 132.0,30.0 C139.5,19.6 146.2,13.3 157.5,0.0 C168.8,-13.3 159.6,-30.0 200.0,-50.0 C240.4,-70.0 316.7,-110.0 400.0,-120.0 C483.3,-130.0 616.7,-121.7 700.0,-110.0 C783.3,-98.3 855.0,-68.3 900.0,-50.0 C945.0,-31.7 953.3,-11.7 970.0,0.0 C986.7,11.7 990.3,12.8 1000.0,20.0 C1009.7,27.2 1019.1,33.3 1028.0,43.1 C1036.9,52.9 1046.0,66.4 1053.2,79.0 C1060.4,91.6 1065.8,103.6 1071.2,118.6 C1076.6,133.6 1082.5,152.8 1085.6,168.9 C1088.7,185.0 1088.9,202.7 1090.0,215.0 C1091.1,227.3 1091.0,233.0 1092.0,242.5 C1093.0,252.0 1093.4,261.3 1096.0,272.2 C1098.6,283.1 1102.8,294.4 1107.8,307.8 C1112.8,321.2 1117.9,333.7 1125.7,352.4 C1133.5,371.1 1146.0,402.5 1154.4,420.0 C1162.8,437.5 1170.5,444.5 1176.2,457.5 C1182.0,470.5 1185.6,484.5 1188.8,498.0 C1191.9,511.5 1193.5,524.7 1195.0,538.8 C1196.5,552.8 1198.0,566.9 1198.0,582.5 C1198.0,598.1 1197.1,617.9 1195.0,632.5 C1192.9,647.1 1189.8,657.5 1185.6,670.0 C1181.4,682.5 1176.3,695.0 1170.0,707.5 C1163.7,720.0 1156.3,733.5 1148.0,745.0 C1139.7,756.5 1129.9,767.4 1120.0,776.2 C1110.1,785.1 1099.2,790.7 1088.8,798.0 C1078.3,805.3 1069.3,813.3 1057.5,820.0 C1045.7,826.7 1034.2,830.5 1018.0,838.0 C1001.8,845.5 983.9,855.9 960.0,864.7 C936.1,873.5 901.4,884.3 874.7,891.0 C848.0,897.7 825.8,901.5 800.0,905.0 C774.2,908.5 740.3,911.0 720.0,912.0 C699.7,913.0 696.5,912.6 678.0,911.0 C659.5,909.4 632.2,907.4 609.3,902.5 C586.4,897.6 563.4,891.1 540.5,881.9 C517.6,872.7 492.1,857.2 471.8,847.5 C451.5,837.8 431.8,830.8 418.8,823.8 C405.7,816.7 403.1,812.3 393.8,805.0 C384.4,797.7 373.0,788.3 362.5,780.0 C352.0,771.7 341.4,763.8 331.0,755.0 C320.6,746.2 308.5,735.8 300.0,727.0 C291.5,718.2 290.0,714.1 280.0,702.5 C270.0,690.9 250.8,671.2 240.0,657.5 C229.2,643.8 223.3,632.1 215.0,620.0 C206.7,607.9 197.5,595.8 190.0,585.0 C182.5,574.2 176.7,565.8 170.0,555.0 C163.3,544.2 156.2,531.7 150.0,520.0 C143.8,508.3 138.3,498.3 132.5,485.0 C126.7,471.7 120.4,454.6 115.0,440.0 C109.6,425.4 104.2,408.3 100.0,397.5 C95.8,386.7 92.5,382.9 90.0,375.0Z" fill="none" stroke="#9467b3" stroke-width="1.8"/>
<path d="M220.0,380.0 C217.5,373.8 219.6,371.7 217.5,362.5 C215.4,353.3 209.6,339.6 207.5,325.0 C205.4,310.4 204.6,291.7 205.0,275.0 C205.4,258.3 207.9,237.7 210.0,225.0 C212.1,212.3 212.5,214.3 217.5,198.7 C222.5,183.1 230.0,153.1 240.0,131.2 C250.0,109.3 265.6,83.1 277.5,67.5 C289.4,51.9 299.4,45.6 311.2,37.5 C323.1,29.4 333.1,24.4 348.8,18.8 C364.4,13.1 386.2,6.9 405.0,3.8 C423.8,0.6 445.6,-0.6 461.2,0.0 C476.9,0.6 486.2,4.4 498.8,7.5 C511.2,10.6 523.8,14.4 536.2,18.8 C548.8,23.1 561.2,29.4 573.8,33.8 C586.2,38.1 600.2,41.8 611.2,45.0 C622.3,48.2 623.2,50.9 640.0,53.0 C656.8,55.1 687.9,55.0 711.9,57.5 C735.9,60.0 759.8,62.3 783.7,68.3 C807.7,74.3 834.0,83.8 855.6,93.4 C877.2,103.0 897.5,115.0 913.1,125.8 C928.7,136.6 938.8,145.7 949.0,158.1 C959.2,170.5 968.0,184.9 974.2,200.0 C980.4,215.1 983.6,235.5 986.1,248.5 C988.6,261.5 987.1,268.2 989.1,278.1 C991.1,288.0 994.0,295.4 998.0,307.8 C1002.0,320.2 1006.9,338.5 1012.8,352.4 C1018.7,366.3 1026.7,379.7 1033.6,391.0 C1040.5,402.3 1048.3,410.0 1054.4,420.0 C1060.5,430.0 1065.3,438.2 1070.0,451.2 C1074.7,464.2 1079.4,482.4 1082.5,498.0 C1085.6,513.6 1088.2,529.4 1088.8,545.0 C1089.3,560.6 1088.2,578.4 1085.6,591.9 C1083.0,605.4 1078.8,615.3 1073.1,626.2 C1067.4,637.2 1060.1,646.0 1051.2,657.5 C1042.4,669.0 1031.5,683.5 1020.0,695.0 C1008.5,706.5 994.0,717.4 982.5,726.2 C971.0,735.1 961.7,741.2 951.2,748.0 C940.8,754.8 932.8,760.9 920.0,766.9 C907.2,772.9 887.7,780.4 874.4,783.8 C861.1,787.2 854.1,786.3 840.0,787.2 C825.9,788.1 806.7,789.4 790.0,789.0 C773.3,788.6 755.0,787.5 740.0,785.0 C725.0,782.5 710.8,776.7 700.0,773.8 C689.2,770.8 689.6,772.7 675.0,767.5 C660.4,762.3 633.3,751.9 612.5,742.5 C591.7,733.1 570.8,723.5 550.0,711.0 C529.2,698.5 508.3,682.5 487.5,667.5 C466.7,652.5 440.4,632.2 425.0,621.0 C409.6,609.8 404.7,607.0 395.0,600.0 C385.3,593.0 376.2,587.3 367.0,579.0 C357.8,570.7 348.7,560.7 340.0,550.0 C331.3,539.3 323.3,527.1 315.0,515.0 C306.7,502.9 298.3,489.6 290.0,477.5 C281.7,465.4 271.7,450.4 265.0,442.5 C258.3,434.6 255.4,437.1 250.0,430.0 C244.6,422.9 237.5,408.3 232.5,400.0 C227.5,391.7 222.5,386.2 220.0,380.0Z" fill="none" stroke="#8e9496" stroke-width="1.8"/>
<path d="M252.5,362.5 C247.5,348.3 244.8,339.6 242.5,325.0 C240.2,310.4 238.8,291.7 238.8,275.0 C238.8,258.3 239.8,240.8 242.5,225.0 C245.2,209.2 249.8,192.5 255.0,180.0 C260.2,167.5 265.6,164.4 273.8,150.0 C281.9,135.6 291.2,109.4 303.8,93.8 C316.2,78.1 331.9,65.6 348.8,56.2 C365.6,46.9 386.2,41.9 405.0,37.5 C423.8,33.1 442.5,30.6 461.2,30.0 C480.0,29.4 501.9,31.9 517.5,33.8 C533.1,35.6 542.5,37.5 555.0,41.2 C567.5,45.0 578.3,50.2 592.5,56.2 C606.7,62.3 620.1,72.3 640.0,77.3 C659.9,82.3 687.9,81.7 711.9,86.2 C735.9,90.7 759.8,97.0 783.7,104.2 C807.7,111.4 837.6,121.6 855.6,129.4 C873.6,137.2 880.8,143.9 891.5,151.0 C902.2,158.1 911.2,161.7 920.0,172.0 C928.8,182.3 937.9,199.1 944.5,212.8 C951.1,226.5 956.2,241.5 959.4,254.4 C962.6,267.3 961.8,278.6 963.8,290.0 C965.8,301.4 968.1,312.3 971.3,322.7 C974.5,333.1 977.5,341.2 983.1,352.4 C988.7,363.6 998.0,377.9 1005.0,390.0 C1012.0,402.1 1019.4,414.8 1025.0,425.0 C1030.6,435.2 1033.8,439.1 1038.8,451.2 C1043.7,463.4 1051.5,482.4 1054.4,498.0 C1057.3,513.6 1057.0,530.9 1055.9,545.0 C1054.9,559.1 1052.5,569.5 1048.1,582.5 C1043.7,595.5 1036.7,610.5 1029.4,623.0 C1022.1,635.5 1012.2,647.6 1004.4,657.5 C996.6,667.4 991.4,673.1 982.5,682.5 C973.6,691.9 961.7,706.2 951.2,713.8 C940.8,721.3 932.8,722.4 920.0,727.8 C907.2,733.2 887.7,741.5 874.4,746.0 C861.1,750.5 854.1,752.2 840.0,754.5 C825.9,756.8 802.3,759.3 790.0,760.0 C777.7,760.7 778.6,759.7 766.0,758.8 C753.4,757.9 727.3,756.0 714.6,754.7 C701.9,753.4 699.2,753.5 690.0,751.0 C680.8,748.5 672.3,745.4 659.4,740.0 C646.5,734.6 630.7,727.8 612.5,718.5 C594.3,709.2 563.8,691.6 550.0,684.0 C536.2,676.4 540.4,679.9 530.0,673.0 C519.6,666.1 499.2,650.5 487.5,642.5 C475.8,634.5 469.6,632.1 460.0,625.0 C450.4,617.9 440.0,608.3 430.0,600.0 C420.0,591.7 410.0,584.2 400.0,575.0 C390.0,565.8 380.0,555.8 370.0,545.0 C360.0,534.2 349.2,521.2 340.0,510.0 C330.8,498.8 323.3,488.8 315.0,477.5 C306.7,466.2 297.1,453.8 290.0,442.5 C282.9,431.2 278.8,423.3 272.5,410.0 C266.2,396.7 257.5,376.7 252.5,362.5Z" fill="none" stroke="#5cc6b6" stroke-width="1.8"/>
<path d="M340.0,360.0 C337.2,347.9 335.6,339.2 336.0,325.0 C336.4,310.8 338.9,291.7 342.5,275.0 C346.1,258.3 352.1,239.2 357.5,225.0 C362.9,210.8 369.6,201.2 375.0,190.0 C380.4,178.8 381.9,166.7 390.0,157.5 C398.1,148.3 411.9,140.0 423.8,135.0 C435.6,130.0 448.8,128.1 461.2,127.5 C473.8,126.9 488.1,128.1 498.8,131.2 C509.4,134.4 515.6,140.6 525.0,146.2 C534.4,151.9 543.8,160.0 555.0,165.0 C566.2,170.0 580.0,173.4 592.5,176.2 C605.0,179.1 618.8,181.3 630.0,181.9 C641.2,182.5 650.0,182.0 660.0,180.0 C670.0,178.0 681.4,172.2 690.0,170.0 C698.6,167.8 701.9,167.0 711.9,167.0 C721.9,167.0 738.0,168.5 750.0,170.0 C762.0,171.5 774.5,172.8 783.7,176.0 C792.9,179.2 797.8,184.3 805.0,189.0 C812.2,193.7 820.6,198.8 826.8,204.0 C833.0,209.2 836.5,214.4 842.0,220.0 C847.5,225.6 855.3,232.1 860.0,237.5 C864.7,242.9 867.1,245.4 870.0,252.5 C872.9,259.6 875.4,271.2 877.5,280.0 C879.6,288.8 880.4,296.7 882.5,305.0 C884.6,313.3 887.6,322.1 890.0,330.0 C892.4,337.9 893.7,342.4 897.0,352.4 C900.3,362.4 904.5,377.1 910.0,390.0 C915.5,402.9 924.2,419.2 930.0,430.0 C935.8,440.8 941.5,447.3 945.0,455.0 C948.5,462.7 949.7,466.5 951.2,476.2 C952.8,486.0 954.4,501.2 954.4,513.8 C954.4,526.2 954.4,539.3 951.2,551.2 C948.1,563.2 941.0,575.8 935.6,585.6 C930.2,595.4 925.2,601.6 919.0,610.0 C912.8,618.4 905.7,629.0 898.4,636.0 C891.1,643.0 883.1,647.7 875.0,652.0 C866.9,656.3 859.2,659.0 850.0,662.0 C840.8,665.0 830.0,667.8 820.0,670.0 C810.0,672.2 800.0,673.4 790.0,675.0 C780.0,676.6 767.5,678.8 760.0,679.4 C752.5,680.0 750.6,678.9 745.0,678.4 C739.4,677.9 732.5,677.5 726.2,676.6 C720.0,675.7 713.8,674.1 707.5,672.8 C701.2,671.5 695.0,670.4 688.8,669.0 C682.5,667.6 676.2,666.1 670.0,664.4 C663.8,662.7 657.5,660.6 651.2,658.8 C645.0,656.9 638.8,655.3 632.5,653.1 C626.2,650.9 620.0,648.1 613.8,645.6 C607.5,643.1 601.2,640.9 595.0,638.1 C588.8,635.3 582.5,631.9 576.2,628.8 C570.0,625.6 563.8,622.8 557.5,619.4 C551.2,616.0 545.0,611.9 538.8,608.1 C532.5,604.4 525.5,600.8 520.0,596.9 C514.5,593.0 511.1,588.6 505.9,584.5 C500.7,580.4 494.4,576.7 488.7,572.4 C483.0,568.1 477.2,563.6 471.5,558.7 C465.8,553.8 460.1,548.7 454.4,543.2 C448.7,537.8 442.9,532.0 437.2,526.0 C431.5,520.0 427.0,516.0 420.0,507.1 C413.0,498.2 403.3,484.5 395.0,472.5 C386.7,460.5 377.1,447.5 370.0,435.0 C362.9,422.5 357.5,410.0 352.5,397.5 C347.5,385.0 342.8,372.1 340.0,360.0Z" fill="none" stroke="#1ba1e0" stroke-width="1.8"/>
<path d="M420.0,402.3 C415.8,394.6 414.5,392.1 412.0,385.0 C409.5,377.9 407.0,370.0 405.0,360.0 C403.0,350.0 400.4,339.2 400.0,325.0 C399.6,310.8 400.4,289.2 402.5,275.0 C404.6,260.8 407.9,249.6 412.5,240.0 C417.1,230.4 423.8,223.3 430.0,217.5 C436.2,211.7 442.5,208.1 450.0,205.0 C457.5,201.9 466.7,199.8 475.0,199.0 C483.3,198.2 492.5,199.0 500.0,200.0 C507.5,201.0 513.3,202.9 520.0,205.0 C526.7,207.1 533.8,209.2 540.0,212.5 C546.2,215.8 551.2,220.4 557.0,225.0 C562.8,229.6 567.8,234.6 575.0,240.0 C582.2,245.4 591.7,253.5 600.0,257.5 C608.3,261.5 616.7,263.6 625.0,264.0 C633.3,264.4 641.7,261.9 650.0,260.0 C658.3,258.1 666.7,254.8 675.0,252.5 C683.3,250.2 691.7,247.3 700.0,246.0 C708.3,244.7 716.7,244.2 725.0,244.5 C733.3,244.8 741.7,245.3 750.0,247.5 C758.3,249.7 767.5,252.9 775.0,257.5 C782.5,262.1 788.3,268.3 795.0,275.0 C801.7,281.7 809.2,289.2 815.0,297.5 C820.8,305.8 826.0,316.2 830.0,325.0 C834.0,333.8 836.4,340.1 838.8,350.0 C841.1,359.9 841.6,374.0 844.4,384.4 C847.2,394.8 852.2,403.4 855.6,412.5 C859.0,421.6 862.5,430.1 865.0,438.8 C867.5,447.6 869.4,456.2 870.6,465.0 C871.9,473.8 872.2,482.6 872.5,491.3 C872.8,500.1 873.1,509.1 872.5,517.5 C871.9,525.9 870.7,534.4 868.8,541.9 C866.9,549.4 864.4,556.2 861.3,562.5 C858.2,568.8 854.4,573.5 850.0,579.4 C845.6,585.3 840.8,592.6 835.0,598.1 C829.2,603.6 822.5,608.7 815.0,612.5 C807.5,616.3 799.2,618.8 790.0,621.0 C780.8,623.2 767.5,625.1 760.0,626.0 C752.5,626.9 750.7,626.7 745.0,626.5 C739.3,626.3 732.2,625.9 726.0,625.0 C719.8,624.1 713.7,622.5 707.5,621.2 C701.3,620.0 695.0,618.8 688.8,617.5 C682.5,616.2 676.2,615.2 670.0,613.8 C663.8,612.3 657.5,610.7 651.2,609.0 C645.0,607.3 638.8,605.5 632.5,603.4 C626.2,601.3 620.0,599.1 613.8,596.5 C607.5,593.9 601.3,591.2 595.0,588.0 C588.7,584.8 582.2,580.8 576.0,577.0 C569.8,573.2 563.5,569.3 557.5,565.0 C551.5,560.7 545.7,556.1 540.0,551.0 C534.3,545.9 528.8,539.9 523.1,534.6 C517.4,529.3 511.6,524.9 505.9,519.2 C500.2,513.5 494.4,506.9 488.7,500.3 C483.0,493.7 477.2,486.9 471.5,479.7 C465.8,472.5 460.1,465.3 454.4,457.3 C448.7,449.3 442.9,440.7 437.2,431.5 C431.5,422.3 424.2,410.1 420.0,402.3Z" fill="none" stroke="#ec69a8" stroke-width="1.8"/>
<path d="M434.6,380.0 C429.9,371.5 428.1,368.3 426.0,360.0 C423.9,351.7 422.3,339.2 422.0,330.0 C421.7,320.8 422.7,312.5 424.0,305.0 C425.3,297.5 427.0,293.8 430.0,285.0 C433.0,276.2 437.0,261.2 442.0,252.0 C447.0,242.8 453.7,235.2 460.0,230.0 C466.3,224.8 473.3,221.8 480.0,221.0 C486.7,220.2 493.3,222.5 500.0,225.0 C506.7,227.5 514.2,231.8 520.0,236.0 C525.8,240.2 530.0,244.8 535.0,250.0 C540.0,255.2 545.0,262.0 550.0,267.0 C555.0,272.0 558.8,276.3 565.0,280.0 C571.2,283.7 577.8,287.2 587.0,289.0 C596.2,290.8 610.3,292.5 620.0,291.0 C629.7,289.5 638.3,284.0 645.0,280.0 C651.7,276.0 653.0,270.2 660.0,267.0 C667.0,263.8 678.3,261.5 687.0,261.0 C695.7,260.5 703.2,261.7 712.0,264.0 C720.8,266.3 730.3,269.8 740.0,275.0 C749.7,280.2 760.8,288.0 770.0,295.0 C779.2,302.0 787.5,308.7 795.0,317.0 C802.5,325.3 809.2,334.5 815.0,345.0 C820.8,355.5 825.4,369.1 830.0,380.0 C834.6,390.9 839.7,401.4 842.5,410.6 C845.3,419.8 846.1,426.3 847.0,435.0 C847.9,443.7 848.2,453.7 848.0,463.0 C847.8,472.3 846.9,481.0 846.0,491.0 C845.1,501.0 844.3,514.5 842.5,523.0 C840.7,531.5 838.1,536.0 835.0,542.0 C831.9,548.0 828.3,554.0 824.0,559.0 C819.7,564.0 814.3,568.3 809.0,572.0 C803.7,575.7 797.7,578.5 792.0,581.0 C786.3,583.5 780.3,585.5 775.0,587.0 C769.7,588.5 765.8,589.0 760.0,590.0 C754.2,591.0 747.5,592.2 740.0,592.8 C732.5,593.4 723.3,594.0 715.0,593.7 C706.7,593.4 697.5,592.0 690.0,591.0 C682.5,590.0 676.5,588.9 670.0,587.5 C663.5,586.1 657.2,584.7 651.0,582.8 C644.8,580.9 638.7,578.6 632.5,576.2 C626.3,573.9 620.2,571.6 614.0,568.8 C607.8,565.9 601.3,562.9 595.0,559.4 C588.7,555.9 582.2,552.1 576.0,548.0 C569.8,543.9 563.5,539.8 557.5,535.0 C551.5,530.2 544.0,523.1 540.0,519.0 C536.0,514.9 537.4,514.9 533.4,510.6 C529.4,506.3 521.4,499.1 516.2,493.4 C511.1,487.7 507.1,481.6 502.5,476.2 C497.9,470.8 493.9,467.4 488.7,460.8 C483.5,454.2 477.2,445.0 471.5,436.7 C465.8,428.4 460.5,420.3 454.4,410.9 C448.2,401.4 439.3,388.5 434.6,380.0Z" fill="none" stroke="#fbae3c" stroke-width="1.8"/>
<line x1="745" y1="415" x2="874" y2="415" stroke="#6d7a83" stroke-width="1.6"/>
<mask id="tm" maskUnits="userSpaceOnUse" x="0" y="0" width="1280" height="1280"><rect width="1280" height="1280" fill="#fff"/><rect x="17.5" y="18.5" width="1246.5" height="110.5" fill="#000"/></mask>
<rect x="17.5" y="18.5" width="1246.5" height="110.5" fill="#ffffff" opacity="0.7" filter="url(#glow2)" mask="url(#tm)"/>
<rect x="17.5" y="18.5" width="1246.5" height="110.5" fill="#ffffff" opacity="0.78"/>
<text x="36.7" y="88.2" font-size="46.6" font-weight="bold" fill="#46469b" textLength="211.6" lengthAdjust="spacingAndGlyphs">U.S.-IRAN</text>
<text x="260.5" y="88.2" font-size="46.6" font-weight="bold" fill="#46469b" textLength="217.2" lengthAdjust="spacingAndGlyphs">CONFLICT</text>
<text x="488.3" y="88.2" font-size="46.6" font-weight="bold" fill="#46469b" textLength="262.1" lengthAdjust="spacingAndGlyphs">THREATENS</text>
<text x="761.3" y="88.2" font-size="46.6" font-weight="bold" fill="#46469b" textLength="159.8" lengthAdjust="spacingAndGlyphs">MAJOR</text>
<text x="932.1" y="88.2" font-size="46.6" font-weight="bold" fill="#46469b" textLength="72.2" lengthAdjust="spacingAndGlyphs">OIL</text>
<text x="1014.7" y="88.2" font-size="46.6" font-weight="bold" fill="#46469b" textLength="228.2" lengthAdjust="spacingAndGlyphs">CORRIDOR</text>
<text x="255.5" y="293.4" font-size="15.6" font-weight="normal" fill="#151515" textLength="50.9" lengthAdjust="spacingAndGlyphs">TURKEY</text>
<text x="350.9" y="370.0" font-size="15.6" font-weight="normal" fill="#151515" textLength="38.8" lengthAdjust="spacingAndGlyphs">SYRIA</text>
<text x="279.6" y="400.0" font-size="15.6" font-weight="normal" fill="#151515" textLength="65.6" lengthAdjust="spacingAndGlyphs">LEBANON</text>
<text x="376.0" y="420.7" font-size="15.6" font-weight="normal" fill="#151515" textLength="32.9" lengthAdjust="spacingAndGlyphs">IRAQ</text>
<text x="270.6" y="436.4" font-size="15.6" font-weight="normal" fill="#151515" textLength="46.6" lengthAdjust="spacingAndGlyphs">ISRAEL</text>
<text x="171.5" y="505.5" font-size="15.6" font-weight="normal" fill="#151515" textLength="43.8" lengthAdjust="spacingAndGlyphs">EGYPT</text>
<text x="451.9" y="492.5" font-size="15.6" font-weight="normal" fill="#151515" textLength="52.1" lengthAdjust="spacingAndGlyphs">KUWAIT</text>
<text x="398.4" y="550.8" font-size="15.6" font-weight="normal" fill="#151515" textLength="41.6" lengthAdjust="spacingAndGlyphs">SAUDI</text>
<text x="394.2" y="565.5" font-size="15.6" font-weight="normal" fill="#151515" textLength="48.8" lengthAdjust="spacingAndGlyphs">ARABIA</text>
<text x="501.1" y="553.4" font-size="15.6" font-weight="normal" fill="#151515" textLength="61.6" lengthAdjust="spacingAndGlyphs">BAHRAIN</text>
<text x="526.1" y="575.0" font-size="15.6" font-weight="normal" fill="#151515" textLength="44.5" lengthAdjust="spacingAndGlyphs">QATAR</text>
<text x="610.0" y="601.4" font-size="15.6" font-weight="normal" fill="#151515" textLength="27.1" lengthAdjust="spacingAndGlyphs">UAE</text>
<text x="137.9" y="390.7" font-size="15.3" font-weight="normal" fill="#151515" textLength="89.9" lengthAdjust="spacingAndGlyphs">USS Gerald R.</text>
<text x="167.5" y="405.9" font-size="15.3" font-weight="normal" fill="#151515" textLength="29.6" lengthAdjust="spacingAndGlyphs">Ford</text>
<text x="682.3" y="791.5" font-size="15.3" font-weight="normal" fill="#151515" textLength="89.5" lengthAdjust="spacingAndGlyphs">USS Abraham</text>
<text x="703.2" y="806.5" font-size="15.3" font-weight="normal" fill="#151515" textLength="47.7" lengthAdjust="spacingAndGlyphs">Lincoln</text>
<text x="253.8" y="206.6" font-size="12.2" fill="#5e93c9" font-style="italic" textLength="59.8" lengthAdjust="spacing">Black Sea</text>
<text x="525.6" y="194.8" font-size="12.2" fill="#5e93c9" font-style="italic" textLength="47.8" lengthAdjust="spacing">Caspian</text>
<text x="539.0" y="207.9" font-size="12.2" fill="#5e93c9" font-style="italic" textLength="20.8" lengthAdjust="spacing">Sea</text>
<text x="144.5" y="427.0" font-size="12.2" fill="#5e93c9" font-style="italic" textLength="88.6" lengthAdjust="spacing">Mediterranean</text>
<text x="180.4" y="439.2" font-size="12.2" fill="#5e93c9" font-style="italic" textLength="21.1" lengthAdjust="spacing">Sea</text>
<text x="344.7" y="673.1" font-size="12.2" fill="#5e93c9" font-style="italic" textLength="48.4" lengthAdjust="spacing">Red Sea</text>
<text x="757.5" y="655.5" font-size="12.2" fill="#5e93c9" font-style="italic" textLength="73.8" lengthAdjust="spacing">Arabian Sea</text>
<text x="465.0" y="810.3" font-size="12.2" fill="#5e93c9" font-style="italic" textLength="78.0" lengthAdjust="spacing" transform="rotate(-17.5 465 810.3)">Gulf of Aden</text>
<text x="548.0" y="496.5" font-size="12.2" fill="#5e93c9" font-style="italic" textLength="77.0" lengthAdjust="spacing" transform="rotate(39 548 496.5)">Persian Gulf</text>
<text x="617.5" y="410.5" font-size="18.2" font-weight="bold" fill="#ffffff" textLength="47.6" lengthAdjust="spacingAndGlyphs">IRAN</text>
<text x="710.6" y="528.8" font-size="13.4" font-weight="bold" fill="#ffffff" font-style="italic" textLength="48.3" lengthAdjust="spacingAndGlyphs">Strait of</text>
<text x="710.6" y="543.0" font-size="13.4" font-weight="bold" fill="#ffffff" font-style="italic" textLength="46.5" lengthAdjust="spacingAndGlyphs">Hormuz</text>
<text x="588.9" y="362.5" font-size="13.0" font-weight="bold" fill="#ffffff" textLength="36.8" lengthAdjust="spacingAndGlyphs">Tehran</text>
<text x="521.6" y="377.5" font-size="13.0" font-weight="normal" fill="#eef0f1" textLength="38.9" lengthAdjust="spacingAndGlyphs">Fordow</text>
<text x="517.0" y="392.5" font-size="13.0" font-weight="normal" fill="#eef0f1" textLength="22.5" lengthAdjust="spacingAndGlyphs">Arak</text>
<text x="540.3" y="407.0" font-size="13.0" font-weight="normal" fill="#eef0f1" textLength="37.8" lengthAdjust="spacingAndGlyphs">Natanz</text>
<text x="535.1" y="426.2" font-size="13.0" font-weight="normal" fill="#eef0f1" textLength="40.6" lengthAdjust="spacingAndGlyphs">Isfahan</text>
<text x="586.6" y="495.0" font-size="13.0" font-weight="normal" fill="#eef0f1" textLength="42.3" lengthAdjust="spacingAndGlyphs">Bushehr</text>
<rect x="485.5" y="316.0" width="9" height="9" fill="none" stroke="#19a99a" stroke-width="1.7"/>
<rect x="575.5" y="354.2" width="9" height="9" fill="none" stroke="#19a99a" stroke-width="1.7"/>
<rect x="564.2" y="375.0" width="9" height="9" fill="none" stroke="#f6a623" stroke-width="1.7"/>
<rect x="543.5" y="383.8" width="9" height="9" fill="none" stroke="#19a99a" stroke-width="1.7"/>
<rect x="582.5" y="397.2" width="9" height="9" fill="none" stroke="#f6a623" stroke-width="1.7"/>
<rect x="582.5" y="414.8" width="9" height="9" fill="none" stroke="#19a99a" stroke-width="1.7"/>
<rect x="578.0" y="418.5" width="9" height="9" fill="none" stroke="#1f78c8" stroke-width="1.7"/>
<rect x="619.2" y="421.2" width="9" height="9" fill="none" stroke="#4b4b4d" stroke-width="1.7"/>
<rect x="626.0" y="430.0" width="9" height="9" fill="none" stroke="#4b4b4d" stroke-width="1.7"/>
<rect x="641.8" y="418.0" width="9" height="9" fill="none" stroke="#4b4b4d" stroke-width="1.7"/>
<rect x="575.0" y="486.0" width="9" height="9" fill="none" stroke="#9b1c5e" stroke-width="1.7"/>
<circle cx="674.5" cy="535" r="30.5" fill="none" stroke="#3f3b97" stroke-width="3.2" stroke-dasharray="3.2 3.6"/>
<use href="#ship" x="207.3" y="380.8" width="58.6" height="15.8"/>
<use href="#ship" x="230.8" y="396.5" width="59.2" height="16.0"/>
<use href="#ship" x="292.5" y="569.5" width="61.2" height="16.5"/>
<use href="#ship" x="593.0" y="547.2" width="59.5" height="16.1"/>
<use href="#ship" x="685.0" y="557.7" width="60.0" height="16.2"/>
<use href="#ship" x="718.8" y="576.3" width="60.0" height="16.2"/>
<use href="#ship" x="760.0" y="603.8" width="60.0" height="16.2"/>
<use href="#ship" x="745.2" y="625.6" width="59.9" height="16.2"/>
<use href="#ship" x="786.0" y="666.3" width="60.0" height="16.2"/>
<use href="#ship" x="866.8" y="715.5" width="59.2" height="16.0"/>
<use href="#ship" x="700.0" y="721.3" width="60.0" height="16.2"/>
<use href="#ship" x="771.0" y="757.4" width="59.6" height="16.1"/>
<use href="#ship" x="610.9" y="758.4" width="59.4" height="16.0"/>
<use href="#carrier" x="138.2" y="339.3" width="91.4" height="36.2"/>
<use href="#carrier" x="678.4" y="740.4" width="91.6" height="36.2"/>
<circle cx="154.6" cy="303.3" r="6.3" fill="#fdb92b" stroke="#fff" stroke-width="1.1"/>
<circle cx="300.6" cy="335.2" r="6.3" fill="#fdb92b" stroke="#fff" stroke-width="1.1"/>
<circle cx="357.3" cy="402.9" r="6.3" fill="#0aa99a" stroke="#fff" stroke-width="1.1"/>
<circle cx="322.2" cy="438.7" r="6.3" fill="#fdb92b" stroke="#fff" stroke-width="1.1"/>
<circle cx="425.2" cy="399.1" r="6.3" fill="#fdb92b" stroke="#fff" stroke-width="1.1"/>
<circle cx="452.5" cy="349.7" r="6.3" fill="#fdb92b" stroke="#fff" stroke-width="1.1"/>
<circle cx="460.2" cy="395.8" r="6.3" fill="#fdb92b" stroke="#fff" stroke-width="1.1"/>
<circle cx="458.7" cy="407.1" r="6.3" fill="#0aa99a" stroke="#fff" stroke-width="1.1"/>
<circle cx="286.5" cy="452.8" r="6.3" fill="#0aa99a" stroke="#fff" stroke-width="1.1"/>
<circle cx="302.2" cy="454.5" r="6.3" fill="#4e0d36" stroke="#fff" stroke-width="1.1"/>
<circle cx="229.5" cy="469.25" r="6.3" fill="#1566b0" stroke="#fff" stroke-width="1.1"/>
<circle cx="322" cy="505.5" r="6.3" fill="#fdb92b" stroke="#fff" stroke-width="1.1"/>
<circle cx="355" cy="585" r="6.3" fill="#1566b0" stroke="#fff" stroke-width="1.1"/>
<circle cx="359.5" cy="589.5" r="6.3" fill="#1566b0" stroke="#fff" stroke-width="1.1"/>
<circle cx="391.25" cy="633.75" r="6.3" fill="#fdb92b" stroke="#fff" stroke-width="1.1"/>
<circle cx="515" cy="478.1" r="6.3" fill="#0aa99a" stroke="#fff" stroke-width="1.1"/>
<circle cx="515" cy="489.8" r="6.3" fill="#fdb92b" stroke="#fff" stroke-width="1.1"/>
<circle cx="526" cy="491" r="6.3" fill="#0aa99a" stroke="#fff" stroke-width="1.1"/>
<circle cx="573.6" cy="542.2" r="6.3" fill="#fdb92b" stroke="#fff" stroke-width="1.1"/>
<circle cx="569.7" cy="555.5" r="6.3" fill="#fdb92b" stroke="#fff" stroke-width="1.1"/>
<circle cx="582.5" cy="569.5" r="6.3" fill="#fdb92b" stroke="#fff" stroke-width="1.1"/>
<circle cx="583.4" cy="561.25" r="6.3" fill="#0aa99a" stroke="#fff" stroke-width="1.1"/>
<circle cx="504" cy="575.5" r="6.3" fill="#0aa99a" stroke="#fff" stroke-width="1.1"/>
<circle cx="518" cy="587.5" r="6.3" fill="#fdb92b" stroke="#fff" stroke-width="1.1"/>
<circle cx="640.3" cy="584.7" r="6.3" fill="#fdb92b" stroke="#fff" stroke-width="1.1"/>
<circle cx="652.5" cy="573" r="6.3" fill="#1566b0" stroke="#fff" stroke-width="1.1"/>
<circle cx="673.1" cy="570.6" r="6.3" fill="#1566b0" stroke="#fff" stroke-width="1.1"/>
<circle cx="691.75" cy="595" r="6.3" fill="#fdb92b" stroke="#fff" stroke-width="1.1"/>
<circle cx="707.5" cy="596.25" r="6.3" fill="#fdb92b" stroke="#fff" stroke-width="1.1"/>
<circle cx="711.5" cy="648.75" r="6.3" fill="#fdb92b" stroke="#fff" stroke-width="1.1"/>
<circle cx="632.5" cy="702" r="6.3" fill="#fdb92b" stroke="#fff" stroke-width="1.1"/>
<circle cx="630.5" cy="712" r="6.3" fill="#1566b0" stroke="#fff" stroke-width="1.1"/>
<circle cx="441.8" cy="808.7" r="6.3" fill="#1566b0" stroke="#fff" stroke-width="1.1"/>
<rect x="536.5" y="216.3" width="62.3" height="23.1" rx="3.5" fill="#fff" stroke="#ec69a8" stroke-width="1.1"/>
<text x="541.1" y="233.8" font-size="19.8" font-weight="bold" fill="#000" textLength="54.0" lengthAdjust="spacingAndGlyphs">500km</text>
<rect x="821.3" y="213.8" width="62.5" height="22.5" rx="3.5" fill="#fff" stroke="#1ba1e0" stroke-width="1.1"/>
<text x="825.2" y="231.0" font-size="19.8" font-weight="bold" fill="#000" textLength="54.0" lengthAdjust="spacingAndGlyphs">800km</text>
<rect x="800.5" y="504.4" width="62.5" height="24.0" rx="3.5" fill="#fff" stroke="#fbae3c" stroke-width="1.1"/>
<text x="804.7" y="522.3" font-size="19.8" font-weight="bold" fill="#000" textLength="54.3" lengthAdjust="spacingAndGlyphs">300km</text>
<rect x="462.5" y="682.5" width="73.9" height="23.6" rx="3.5" fill="#fff" stroke="#9aa0a3" stroke-width="1.1"/>
<text x="464.9" y="700.2" font-size="19.8" font-weight="bold" fill="#000" textLength="68.1" lengthAdjust="spacingAndGlyphs">1,450km</text>
<rect x="926.9" y="681.9" width="76.9" height="23.1" rx="3.5" fill="#fff" stroke="#5cc6b6" stroke-width="1.1"/>
<text x="929.8" y="699.4" font-size="19.8" font-weight="bold" fill="#000" textLength="69.3" lengthAdjust="spacingAndGlyphs">1,300km</text>
<rect x="251" y="702.5" width="77.5" height="23.5" rx="3.5" fill="#fff" stroke="#9467b3" stroke-width="1.1"/>
<text x="255.4" y="720.1" font-size="19.8" font-weight="bold" fill="#000" textLength="69.6" lengthAdjust="spacingAndGlyphs">2,000km</text>
<rect x="68.5" y="554.2" width="170.4" height="170" fill="#fdfdfd" opacity="0.8"/>
<text x="77.8" y="572.2" font-size="14.8" font-weight="bold" fill="#111" textLength="152.2" lengthAdjust="spacingAndGlyphs">U.S. Military Facilities in</text>
<text x="78.5" y="587.0" font-size="14.8" font-weight="bold" fill="#111" textLength="94.8" lengthAdjust="spacingAndGlyphs">the Middle East</text>
<circle cx="84.5" cy="599.6" r="6.4" fill="#fdb92b"/>
<text x="100.8" y="602.8" font-size="13.6" font-weight="normal" fill="#1a1a1a" textLength="49.9" lengthAdjust="spacingAndGlyphs">Air Base</text>
<circle cx="84.5" cy="617.4" r="6.4" fill="#1566b0"/>
<text x="99.7" y="620.6" font-size="13.6" font-weight="normal" fill="#1a1a1a" textLength="80.8" lengthAdjust="spacingAndGlyphs">Naval Facility</text>
<circle cx="84.5" cy="635.2" r="6.4" fill="#0aa99a"/>
<text x="100.2" y="638.4" font-size="13.6" font-weight="normal" fill="#1a1a1a" textLength="47.8" lengthAdjust="spacingAndGlyphs">Outpost</text>
<circle cx="84.5" cy="653.4" r="6.4" fill="#4e0d36"/>
<text x="99.7" y="656.6" font-size="13.6" font-weight="normal" fill="#1a1a1a" textLength="81.9" lengthAdjust="spacingAndGlyphs">Radar Facility</text>
<use href="#ship" x="77.5" y="666" width="60" height="16.2"/>
<text x="77.6" y="695.7" font-size="13.6" font-weight="normal" fill="#1a1a1a" textLength="138.1" lengthAdjust="spacingAndGlyphs">U.S. Naval Deployment</text>
<text x="78.1" y="714.2" font-size="13.6" font-weight="normal" fill="#1a1a1a" textLength="115.6" lengthAdjust="spacingAndGlyphs">as of Feb. 17, 2026</text>
<rect x="874.1" y="353.2" width="163.7" height="123.6" fill="#66737d"/>
<text x="883.7" y="372.0" font-size="14.6" font-weight="bold" fill="#fafafa" textLength="143.0" lengthAdjust="spacingAndGlyphs">Iran’s Nuclear Facilities</text>
<rect x="884.9" y="381.3" width="9.2" height="9.2" fill="none" stroke="#4b4b4d" stroke-width="1.8"/>
<text x="901.9" y="390.3" font-size="13.6" font-weight="normal" fill="#f2f2f2" textLength="123.7" lengthAdjust="spacingAndGlyphs">Mining &amp; processing</text>
<rect x="884.9" y="399.6" width="9.2" height="9.2" fill="none" stroke="#1f78c8" stroke-width="1.8"/>
<text x="901.9" y="408.6" font-size="13.6" font-weight="normal" fill="#f2f2f2" textLength="94.4" lengthAdjust="spacingAndGlyphs">Fuel production</text>
<rect x="884.9" y="418.0" width="9.2" height="9.2" fill="none" stroke="#f6a623" stroke-width="1.8"/>
<text x="901.9" y="427.0" font-size="13.6" font-weight="normal" fill="#f2f2f2" textLength="68.3" lengthAdjust="spacingAndGlyphs">Enrichment</text>
<rect x="884.9" y="436.2" width="9.2" height="9.2" fill="none" stroke="#19a99a" stroke-width="1.8"/>
<text x="901.9" y="445.2" font-size="13.6" font-weight="normal" fill="#f2f2f2" textLength="56.5" lengthAdjust="spacingAndGlyphs">Research</text>
<rect x="884.9" y="454.5" width="9.2" height="9.2" fill="none" stroke="#9b1c5e" stroke-width="1.8"/>
<text x="901.9" y="463.5" font-size="13.6" font-weight="normal" fill="#f2f2f2" textLength="71.8" lengthAdjust="spacingAndGlyphs">Power plant</text>
<mask id="pm" maskUnits="userSpaceOnUse" x="0" y="0" width="1280" height="1280"><rect width="1280" height="1280" fill="#fff"/><rect x="15.3" y="825" width="676.7" height="426" fill="#000"/><rect x="714.8" y="825" width="549.7" height="426" fill="#000"/></mask>
<g mask="url(#pm)"><rect x="15.3" y="825" width="676.7" height="426" fill="#000" opacity="0.2" filter="url(#shadow)"/><rect x="714.8" y="825" width="549.7" height="426" fill="#000" opacity="0.2" filter="url(#shadow)"/></g>
<rect x="15.3" y="825" width="676.7" height="426" fill="#fcfdfe" opacity="0.82"/>
<rect x="714.8" y="825" width="549.7" height="426" fill="#fdfdfe" opacity="0.88"/>
<text x="29.3" y="856.6" font-size="19.8" font-weight="bold" fill="#0d0d0d" textLength="252.4" lengthAdjust="spacingAndGlyphs">BRENT CRUDE OIL PRICES</text>
<text x="48.3" y="878.6" font-size="15.3" font-weight="normal" fill="#555" textLength="173.0" lengthAdjust="spacingAndGlyphs">PRICE PER BARREL USD</text>
<line x1="49" y1="883.6" x2="659" y2="883.6" stroke="#7d7d7d" stroke-width="1"/>
<text x="29.3" y="889.2" font-size="13.6" font-weight="bold" fill="#0d0d0d" textLength="15.5" lengthAdjust="spacingAndGlyphs">80</text>
<line x1="49" y1="949.5" x2="659" y2="949.5" stroke="#7d7d7d" stroke-width="1"/>
<text x="29.1" y="955.1" font-size="13.6" font-weight="bold" fill="#0d0d0d" textLength="15.4" lengthAdjust="spacingAndGlyphs">75</text>
<line x1="49" y1="1015.4" x2="659" y2="1015.4" stroke="#7d7d7d" stroke-width="1"/>
<text x="29.1" y="1021.0" font-size="13.6" font-weight="bold" fill="#0d0d0d" textLength="15.7" lengthAdjust="spacingAndGlyphs">70</text>
<line x1="49" y1="1081.3" x2="659" y2="1081.3" stroke="#7d7d7d" stroke-width="1"/>
<text x="29.2" y="1086.9" font-size="13.6" font-weight="bold" fill="#0d0d0d" textLength="15.4" lengthAdjust="spacingAndGlyphs">65</text>
<line x1="49" y1="1147.2" x2="659" y2="1147.2" stroke="#7d7d7d" stroke-width="1"/>
<text x="29.2" y="1152.8" font-size="13.6" font-weight="bold" fill="#0d0d0d" textLength="15.6" lengthAdjust="spacingAndGlyphs">60</text>
<line x1="49" y1="1213.1" x2="659" y2="1213.1" stroke="#7d7d7d" stroke-width="1"/>
<text x="29.3" y="1218.7" font-size="13.6" font-weight="bold" fill="#0d0d0d" textLength="15.3" lengthAdjust="spacingAndGlyphs">55</text>
<polyline points="60.3,934.5 62.3,929.4 64.0,956.4 68.4,957.9 70.5,979.2 71.9,987.3 73.5,974.1 76.1,986.3 81.6,1003.6 83.2,1028.9 86.7,1015.7 91.4,1031.0 94.4,1008.6 96.4,1021.8 98.5,1013.7 102.9,1006.6 105.0,1012.7 107.0,1009.6 108.4,995.4 113.1,987.3 115.1,983.2 116.8,983.2 117.8,974.1 119.2,970.7 120.8,987.3 125.3,962.9 126.9,965.0 128.7,959.5 129.3,960.9 131.4,1080.7 136.4,1094.9 138.5,1115.2 140.1,1082.7 141.5,1110.2 143.6,1093.9 148.6,1090.9 150.0,1094.9 153.1,1054.3 159.8,1074.6 161.2,1061.4 162.8,1077.7 166.3,1069.5 171.0,1081.7 174.0,1132.5 175.6,1118.3 178.1,1129.4 182.7,1143.7 184.2,1118.3 185.8,1131.5 189.2,1093.9 193.7,1080.7 195.3,1059.4 196.8,1066.5 198.4,1086.8 200.8,1074.6 205.5,1073.6 207.5,1076.6 210.2,1087.8 212.2,1083.8 217.7,1092.9 219.7,1081.7 223.4,1110.2 229.8,1072.6 231.9,1082.7 234.9,1060.4 238.1,1055.3 241.2,1056.3 242.6,1017.8 244.2,1022.8 245.6,958.9 250.3,971.1 252.3,928.4 256.0,921.3 257.4,921.3 263.5,1052.3 266.1,1045.2 268.6,1056.3 273.2,1058.0 275.1,1051.3 276.7,1026.9 278.3,1031.0 280.4,1020.8 284.4,1020.8 286.4,1012.7 288.3,1011.7 289.5,1032.0 291.3,1010.7 296.0,1025.9 299.4,1034.0 301.1,1021.8 303.5,1024.3 306.8,1024.9 308.8,1033.0 311.2,1034.4 312.6,1025.9 314.3,1035.0 318.9,1015.7 320.8,982.2 322.4,983.2 325.4,1017.4 330.5,1031.0 335.2,1061.4 337.6,1059.4 341.7,1059.4 344.7,1072.6 346.8,1056.3 348.8,1068.5 352.8,1060.4 354.5,1069.5 357.9,1045.2 360.0,1044.2 364.0,1031.0 365.6,1051.3 367.7,1041.1 369.1,1041.1 371.1,1048.2 376.2,1025.9 381.9,1074.2 388.0,1066.5 390.4,1048.2 392.0,1062.4 393.5,1054.3 398.5,1049.2 400.2,1035.0 405.0,1058.4 409.7,1060.4 413.1,1023.9 415.2,1021.8 416.4,1012.7 420.9,1040.1 426.0,1093.0 432.5,1075.0 434.8,1073.4 436.4,1064.1 438.8,1110.9 444.2,1103.1 448.9,1132.8 450.5,1129.7 455.6,1133.6 457.5,1128.1 460.3,1068.0 466.9,1072.7 468.1,1089.1 469.7,1082.8 471.3,1089.1 473.6,1082.8 478.1,1081.6 479.8,1087.5 481.7,1100.8 483.3,1102.3 485.6,1098.4 488.8,1093.4 490.0,1092.2 491.3,1079.4 493.0,1110.9 495.8,1089.1 497.7,1091.4 499.7,1096.1 502.8,1082.0 504.4,1100.0 505.9,1101.6 507.2,1111.7 510.6,1121.1 513.0,1102.3 513.8,1114.1 516.9,1115.6 518.8,1104.7 522.3,1101.6 525.8,1114.1 527.5,1109.4 530.2,1096.9 533.6,1095.3 536.4,1120.3 538.3,1117.2 540.0,1130.5 541.9,1131.3 545.0,1128.1 548.1,1160.9 549.7,1151.6 551.3,1149.2 552.8,1140.6 555.9,1134.4 558.8,1115.6 562.5,1115.9 563.8,1138.3 567.7,1135.9 570.0,1128.1 572.3,1132.8 574.7,1132.8 576.3,1135.9 579.4,1139.8 580.9,1123.4 583.8,1146.9 586.9,1102.8 590.3,1101.6 591.9,1096.9 595.0,1060.9 596.6,1097.7 598.4,1093.4 601.3,1093.4 603.6,1082.0 605.2,1081.3 606.7,1077.3 608.3,1093.8 609.8,1068.8 612.3,1067.8 614.9,1073.4 616.6,1042.5 619.4,1020.5 621.2,1025.6 624.1,1065.0 626.4,1061.7 629.2,1022.3 630.6,1047.2 632.5,1041.1 633.9,1043.9 635.8,1049.1 637.2,1027.5 639.3,1029.4 640.9,1022.3 641.9,1047.7 643.7,1044.4 646.6,1044.8 649.4,1049.5 652.2,1003.1" fill="none" stroke="#3c3893" stroke-width="1.8" stroke-linejoin="round"/>
<circle cx="654" cy="999.3" r="4" fill="#fff" stroke="#3c3893" stroke-width="1.6"/>
<text x="629.8" y="990.5" font-size="16.8" font-weight="bold" fill="#3f3b97" textLength="49.2" lengthAdjust="spacingAndGlyphs">$71.16</text>
<text x="58.6" y="1229.2" font-size="13.8" font-weight="normal" fill="#111" textLength="35.6" lengthAdjust="spacingAndGlyphs">March</text>
<text x="164.0" y="1229.2" font-size="13.8" font-weight="normal" fill="#111" textLength="23.0" lengthAdjust="spacingAndGlyphs">May</text>
<text x="264.1" y="1229.2" font-size="13.8" font-weight="normal" fill="#111" textLength="21.9" lengthAdjust="spacingAndGlyphs">July</text>
<text x="360.5" y="1229.2" font-size="13.8" font-weight="normal" fill="#111" textLength="28.2" lengthAdjust="spacingAndGlyphs">Sept.</text>
<text x="460.5" y="1229.2" font-size="13.8" font-weight="normal" fill="#111" textLength="25.1" lengthAdjust="spacingAndGlyphs">Nov.</text>
<text x="560.8" y="1229.2" font-size="13.8" font-weight="normal" fill="#111" textLength="24.4" lengthAdjust="spacingAndGlyphs">Jan.</text>
<text x="558.9" y="1242.3" font-size="13.8" font-weight="normal" fill="#111" textLength="27.6" lengthAdjust="spacingAndGlyphs">2026</text>
<text x="736.0" y="862.3" font-size="20.2" font-weight="bold" fill="#0d0d0d" textLength="452.2" lengthAdjust="spacingAndGlyphs">STRAIT OF HORMUZ IS A MAJOR CHOKEPOINT</text>
<text x="735.6" y="889.0" font-size="13.6" font-weight="normal" fill="#333" textLength="492.4" lengthAdjust="spacingAndGlyphs">BARRELS PER DAY OF CRUDE OIL &amp; PETROLEUM PRODUCTS TRANSPORTED, 2023</text>
<rect x="735.9" y="892.4" width="505.1" height="34.8" fill="#a9aaad"/>
<text x="745.3" y="915.4" font-size="15.8" font-weight="bold" fill="#111" textLength="46.3" lengthAdjust="spacingAndGlyphs">23.7M</text>
<text x="1077.6" y="915.8" font-size="16.4" font-weight="normal" fill="#3a3a3a" textLength="154.0" lengthAdjust="spacingAndGlyphs">STRAIT OF MALACCA</text>
<rect x="735.9" y="934.8" width="445.5" height="34.8" fill="#463f96"/>
<text x="745.3" y="957.8" font-size="15.8" font-weight="bold" fill="#fff" textLength="46.3" lengthAdjust="spacingAndGlyphs">20.9M</text>
<text x="1024.8" y="958.2" font-size="16.4" font-weight="normal" fill="#f4f4f8" textLength="146.7" lengthAdjust="spacingAndGlyphs">STRAIT OF HORMUZ</text>
<rect x="735.9" y="977.1" width="187.7" height="34.8" fill="#a9aaad"/>
<text x="745.4" y="1000.1" font-size="15.8" font-weight="bold" fill="#111" textLength="36.8" lengthAdjust="spacingAndGlyphs">8.8M</text>
<text x="928.6" y="1000.5" font-size="16.4" font-weight="normal" fill="#3a3a3a" textLength="234.4" lengthAdjust="spacingAndGlyphs">SUEZ CANAL &amp; SUMED PIPELINE</text>
<rect x="735.9" y="1019.5" width="183.5" height="34.8" fill="#a9aaad"/>
<text x="745.4" y="1042.5" font-size="15.8" font-weight="bold" fill="#111" textLength="36.8" lengthAdjust="spacingAndGlyphs">8.6M</text>
<text x="923.8" y="1042.9" font-size="16.4" font-weight="normal" fill="#3a3a3a" textLength="122.0" lengthAdjust="spacingAndGlyphs">BAB AL-MANDEB</text>
<rect x="735.9" y="1061.9" width="128.1" height="34.8" fill="#a9aaad"/>
<text x="745.3" y="1084.9" font-size="15.8" font-weight="bold" fill="#111" textLength="23.4" lengthAdjust="spacingAndGlyphs">6M</text>
<text x="868.3" y="1085.3" font-size="16.4" font-weight="normal" fill="#3a3a3a" textLength="155.3" lengthAdjust="spacingAndGlyphs">CAPE OF GOOD HOPE</text>
<rect x="735.9" y="1104.2" width="104.7" height="34.8" fill="#a9aaad"/>
<text x="745.7" y="1127.2" font-size="15.8" font-weight="bold" fill="#111" textLength="36.6" lengthAdjust="spacingAndGlyphs">4.9M</text>
<text x="844.3" y="1127.7" font-size="16.4" font-weight="normal" fill="#3a3a3a" textLength="123.8" lengthAdjust="spacingAndGlyphs">DANISH STRAITS</text>
<rect x="735.9" y="1146.6" width="72.7" height="34.8" fill="#a9aaad"/>
<text x="745.6" y="1169.6" font-size="15.8" font-weight="bold" fill="#111" textLength="36.7" lengthAdjust="spacingAndGlyphs">3.4M</text>
<text x="815.7" y="1170.0" font-size="16.4" font-weight="normal" fill="#3a3a3a" textLength="131.1" lengthAdjust="spacingAndGlyphs">TURKISH STRAITS</text>
<rect x="735.9" y="1189.0" width="42.9" height="34.8" fill="#a9aaad"/>
<text x="745.3" y="1212.0" font-size="15.8" font-weight="bold" fill="#111" textLength="23.4" lengthAdjust="spacingAndGlyphs">2M</text>
<text x="783.2" y="1212.4" font-size="16.4" font-weight="normal" fill="#3a3a3a" textLength="117.7" lengthAdjust="spacingAndGlyphs">PANAMA CANAL</text>
<text x="11.2" y="1270.0" font-size="14.2" font-weight="normal" fill="#1d1d1d" textLength="618.2" lengthAdjust="spacingAndGlyphs">Sources: Congressional Research Service, American Security Project, JINSA, Council on Foreign Relations</text>
<text x="1103.1" y="1270.0" font-size="14.2" font-weight="normal" fill="#1d1d1d" textLength="165.7" lengthAdjust="spacingAndGlyphs">© 2026 Geopolitical Futures®</text>
</svg></body></html>
